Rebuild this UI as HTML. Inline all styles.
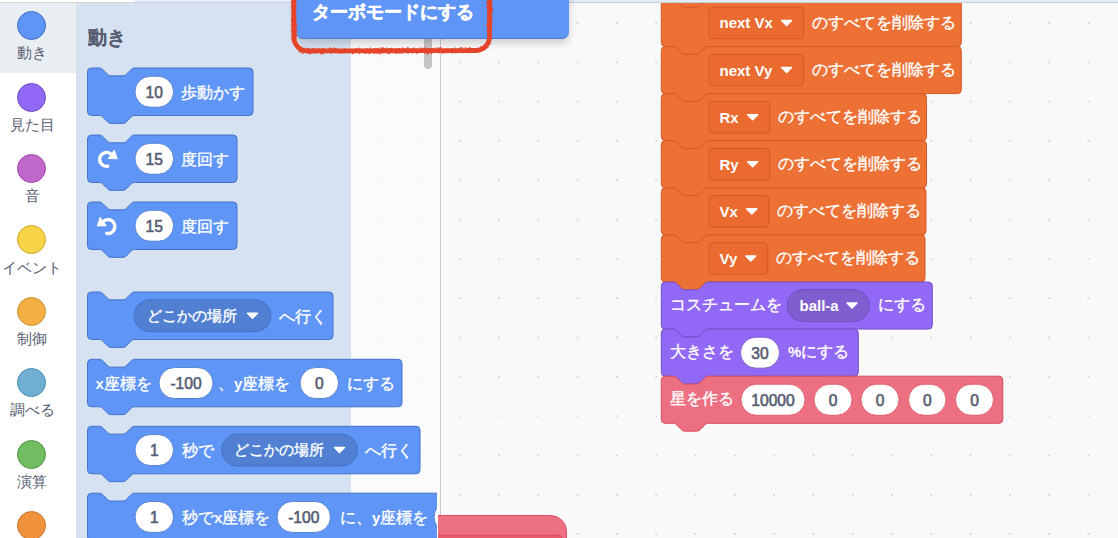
<!DOCTYPE html>
<html><head><meta charset="utf-8">
<style>
html,body{margin:0;padding:0;width:1118px;height:538px;overflow:hidden;background:#F9F9F9;font-family:'Liberation Sans', sans-serif;}
#root{position:relative;width:1118px;height:538px;overflow:hidden;}
.abs{position:absolute;}
#cats{left:0;top:2px;width:76px;height:536px;background:#fff;border-right:1px solid #dcdcdc;}
#catsel{left:0;top:0;width:76px;height:71px;background:#E9EEF2;}
.cat{position:absolute;left:0;width:76px;text-align:center;}
.dot{position:absolute;left:17.3px;width:27px;height:27px;border-radius:50%;border:1.2px solid;}
.lab{position:absolute;left:-16px;width:96px;text-align:center;font-size:15.2px;color:#585E73;line-height:16px;white-space:nowrap;}
#flyoutbg{left:77px;top:2px;width:274px;height:536px;background:#D6E2F2;}
#flyoutwhite{left:351px;top:2px;width:89px;height:536px;background:#FBFBFB;}
#vline{left:440px;top:0;width:1px;height:538px;background:#c8c8c8;}
#topstrip{left:0;top:0;width:1118px;height:2px;background:#E3EBF6;border-bottom:1px solid #C5CFDD;}
#topwhite{left:0;top:0;width:135px;height:2px;background:#fff;border-bottom:1px solid #d5d5d5;}
svg text{font-family:'Liberation Sans', sans-serif;}
#menu{left:296px;top:-10px;width:272.5px;height:48.5px;background:#5F95F7;border-radius:0 0 7px 7px;box-shadow:0 4px 8px rgba(0,0,0,0.18);border-bottom:1px solid #4A7BD0;box-sizing:border-box;}
#menutext{left:312px;top:1.5px;font-size:17.9px;font-weight:bold;color:#fff;-webkit-text-stroke:0.5px #fff;line-height:20px;white-space:nowrap;}
#scroll{left:424px;top:30px;width:8px;height:39px;border-radius:4px;background:#c4c4c4;}
</style></head><body><div id="root">
<svg class="abs" style="left:0;top:0" width="1118" height="538"><circle cx="459.6" cy="-16.31" r="0.95" fill="#cfcfcf"/><circle cx="459.6" cy="23" r="0.95" fill="#cfcfcf"/><circle cx="459.6" cy="62.31" r="0.95" fill="#cfcfcf"/><circle cx="459.6" cy="101.62" r="0.95" fill="#cfcfcf"/><circle cx="459.6" cy="140.93" r="0.95" fill="#cfcfcf"/><circle cx="459.6" cy="180.24" r="0.95" fill="#cfcfcf"/><circle cx="459.6" cy="219.55" r="0.95" fill="#cfcfcf"/><circle cx="459.6" cy="258.86" r="0.95" fill="#cfcfcf"/><circle cx="459.6" cy="298.17" r="0.95" fill="#cfcfcf"/><circle cx="459.6" cy="337.48" r="0.95" fill="#cfcfcf"/><circle cx="459.6" cy="376.79" r="0.95" fill="#cfcfcf"/><circle cx="459.6" cy="416.1" r="0.95" fill="#cfcfcf"/><circle cx="459.6" cy="455.41" r="0.95" fill="#cfcfcf"/><circle cx="459.6" cy="494.72" r="0.95" fill="#cfcfcf"/><circle cx="459.6" cy="534.03" r="0.95" fill="#cfcfcf"/><circle cx="498.91" cy="-16.31" r="0.95" fill="#cfcfcf"/><circle cx="498.91" cy="23" r="0.95" fill="#cfcfcf"/><circle cx="498.91" cy="62.31" r="0.95" fill="#cfcfcf"/><circle cx="498.91" cy="101.62" r="0.95" fill="#cfcfcf"/><circle cx="498.91" cy="140.93" r="0.95" fill="#cfcfcf"/><circle cx="498.91" cy="180.24" r="0.95" fill="#cfcfcf"/><circle cx="498.91" cy="219.55" r="0.95" fill="#cfcfcf"/><circle cx="498.91" cy="258.86" r="0.95" fill="#cfcfcf"/><circle cx="498.91" cy="298.17" r="0.95" fill="#cfcfcf"/><circle cx="498.91" cy="337.48" r="0.95" fill="#cfcfcf"/><circle cx="498.91" cy="376.79" r="0.95" fill="#cfcfcf"/><circle cx="498.91" cy="416.1" r="0.95" fill="#cfcfcf"/><circle cx="498.91" cy="455.41" r="0.95" fill="#cfcfcf"/><circle cx="498.91" cy="494.72" r="0.95" fill="#cfcfcf"/><circle cx="498.91" cy="534.03" r="0.95" fill="#cfcfcf"/><circle cx="538.22" cy="-16.31" r="0.95" fill="#cfcfcf"/><circle cx="538.22" cy="23" r="0.95" fill="#cfcfcf"/><circle cx="538.22" cy="62.31" r="0.95" fill="#cfcfcf"/><circle cx="538.22" cy="101.62" r="0.95" fill="#cfcfcf"/><circle cx="538.22" cy="140.93" r="0.95" fill="#cfcfcf"/><circle cx="538.22" cy="180.24" r="0.95" fill="#cfcfcf"/><circle cx="538.22" cy="219.55" r="0.95" fill="#cfcfcf"/><circle cx="538.22" cy="258.86" r="0.95" fill="#cfcfcf"/><circle cx="538.22" cy="298.17" r="0.95" fill="#cfcfcf"/><circle cx="538.22" cy="337.48" r="0.95" fill="#cfcfcf"/><circle cx="538.22" cy="376.79" r="0.95" fill="#cfcfcf"/><circle cx="538.22" cy="416.1" r="0.95" fill="#cfcfcf"/><circle cx="538.22" cy="455.41" r="0.95" fill="#cfcfcf"/><circle cx="538.22" cy="494.72" r="0.95" fill="#cfcfcf"/><circle cx="538.22" cy="534.03" r="0.95" fill="#cfcfcf"/><circle cx="577.53" cy="-16.31" r="0.95" fill="#cfcfcf"/><circle cx="577.53" cy="23" r="0.95" fill="#cfcfcf"/><circle cx="577.53" cy="62.31" r="0.95" fill="#cfcfcf"/><circle cx="577.53" cy="101.62" r="0.95" fill="#cfcfcf"/><circle cx="577.53" cy="140.93" r="0.95" fill="#cfcfcf"/><circle cx="577.53" cy="180.24" r="0.95" fill="#cfcfcf"/><circle cx="577.53" cy="219.55" r="0.95" fill="#cfcfcf"/><circle cx="577.53" cy="258.86" r="0.95" fill="#cfcfcf"/><circle cx="577.53" cy="298.17" r="0.95" fill="#cfcfcf"/><circle cx="577.53" cy="337.48" r="0.95" fill="#cfcfcf"/><circle cx="577.53" cy="376.79" r="0.95" fill="#cfcfcf"/><circle cx="577.53" cy="416.1" r="0.95" fill="#cfcfcf"/><circle cx="577.53" cy="455.41" r="0.95" fill="#cfcfcf"/><circle cx="577.53" cy="494.72" r="0.95" fill="#cfcfcf"/><circle cx="577.53" cy="534.03" r="0.95" fill="#cfcfcf"/><circle cx="616.84" cy="-16.31" r="0.95" fill="#cfcfcf"/><circle cx="616.84" cy="23" r="0.95" fill="#cfcfcf"/><circle cx="616.84" cy="62.31" r="0.95" fill="#cfcfcf"/><circle cx="616.84" cy="101.62" r="0.95" fill="#cfcfcf"/><circle cx="616.84" cy="140.93" r="0.95" fill="#cfcfcf"/><circle cx="616.84" cy="180.24" r="0.95" fill="#cfcfcf"/><circle cx="616.84" cy="219.55" r="0.95" fill="#cfcfcf"/><circle cx="616.84" cy="258.86" r="0.95" fill="#cfcfcf"/><circle cx="616.84" cy="298.17" r="0.95" fill="#cfcfcf"/><circle cx="616.84" cy="337.48" r="0.95" fill="#cfcfcf"/><circle cx="616.84" cy="376.79" r="0.95" fill="#cfcfcf"/><circle cx="616.84" cy="416.1" r="0.95" fill="#cfcfcf"/><circle cx="616.84" cy="455.41" r="0.95" fill="#cfcfcf"/><circle cx="616.84" cy="494.72" r="0.95" fill="#cfcfcf"/><circle cx="616.84" cy="534.03" r="0.95" fill="#cfcfcf"/><circle cx="656.15" cy="-16.31" r="0.95" fill="#cfcfcf"/><circle cx="656.15" cy="23" r="0.95" fill="#cfcfcf"/><circle cx="656.15" cy="62.31" r="0.95" fill="#cfcfcf"/><circle cx="656.15" cy="101.62" r="0.95" fill="#cfcfcf"/><circle cx="656.15" cy="140.93" r="0.95" fill="#cfcfcf"/><circle cx="656.15" cy="180.24" r="0.95" fill="#cfcfcf"/><circle cx="656.15" cy="219.55" r="0.95" fill="#cfcfcf"/><circle cx="656.15" cy="258.86" r="0.95" fill="#cfcfcf"/><circle cx="656.15" cy="298.17" r="0.95" fill="#cfcfcf"/><circle cx="656.15" cy="337.48" r="0.95" fill="#cfcfcf"/><circle cx="656.15" cy="376.79" r="0.95" fill="#cfcfcf"/><circle cx="656.15" cy="416.1" r="0.95" fill="#cfcfcf"/><circle cx="656.15" cy="455.41" r="0.95" fill="#cfcfcf"/><circle cx="656.15" cy="494.72" r="0.95" fill="#cfcfcf"/><circle cx="656.15" cy="534.03" r="0.95" fill="#cfcfcf"/><circle cx="695.46" cy="-16.31" r="0.95" fill="#cfcfcf"/><circle cx="695.46" cy="23" r="0.95" fill="#cfcfcf"/><circle cx="695.46" cy="62.31" r="0.95" fill="#cfcfcf"/><circle cx="695.46" cy="101.62" r="0.95" fill="#cfcfcf"/><circle cx="695.46" cy="140.93" r="0.95" fill="#cfcfcf"/><circle cx="695.46" cy="180.24" r="0.95" fill="#cfcfcf"/><circle cx="695.46" cy="219.55" r="0.95" fill="#cfcfcf"/><circle cx="695.46" cy="258.86" r="0.95" fill="#cfcfcf"/><circle cx="695.46" cy="298.17" r="0.95" fill="#cfcfcf"/><circle cx="695.46" cy="337.48" r="0.95" fill="#cfcfcf"/><circle cx="695.46" cy="376.79" r="0.95" fill="#cfcfcf"/><circle cx="695.46" cy="416.1" r="0.95" fill="#cfcfcf"/><circle cx="695.46" cy="455.41" r="0.95" fill="#cfcfcf"/><circle cx="695.46" cy="494.72" r="0.95" fill="#cfcfcf"/><circle cx="695.46" cy="534.03" r="0.95" fill="#cfcfcf"/><circle cx="734.77" cy="-16.31" r="0.95" fill="#cfcfcf"/><circle cx="734.77" cy="23" r="0.95" fill="#cfcfcf"/><circle cx="734.77" cy="62.31" r="0.95" fill="#cfcfcf"/><circle cx="734.77" cy="101.62" r="0.95" fill="#cfcfcf"/><circle cx="734.77" cy="140.93" r="0.95" fill="#cfcfcf"/><circle cx="734.77" cy="180.24" r="0.95" fill="#cfcfcf"/><circle cx="734.77" cy="219.55" r="0.95" fill="#cfcfcf"/><circle cx="734.77" cy="258.86" r="0.95" fill="#cfcfcf"/><circle cx="734.77" cy="298.17" r="0.95" fill="#cfcfcf"/><circle cx="734.77" cy="337.48" r="0.95" fill="#cfcfcf"/><circle cx="734.77" cy="376.79" r="0.95" fill="#cfcfcf"/><circle cx="734.77" cy="416.1" r="0.95" fill="#cfcfcf"/><circle cx="734.77" cy="455.41" r="0.95" fill="#cfcfcf"/><circle cx="734.77" cy="494.72" r="0.95" fill="#cfcfcf"/><circle cx="734.77" cy="534.03" r="0.95" fill="#cfcfcf"/><circle cx="774.08" cy="-16.31" r="0.95" fill="#cfcfcf"/><circle cx="774.08" cy="23" r="0.95" fill="#cfcfcf"/><circle cx="774.08" cy="62.31" r="0.95" fill="#cfcfcf"/><circle cx="774.08" cy="101.62" r="0.95" fill="#cfcfcf"/><circle cx="774.08" cy="140.93" r="0.95" fill="#cfcfcf"/><circle cx="774.08" cy="180.24" r="0.95" fill="#cfcfcf"/><circle cx="774.08" cy="219.55" r="0.95" fill="#cfcfcf"/><circle cx="774.08" cy="258.86" r="0.95" fill="#cfcfcf"/><circle cx="774.08" cy="298.17" r="0.95" fill="#cfcfcf"/><circle cx="774.08" cy="337.48" r="0.95" fill="#cfcfcf"/><circle cx="774.08" cy="376.79" r="0.95" fill="#cfcfcf"/><circle cx="774.08" cy="416.1" r="0.95" fill="#cfcfcf"/><circle cx="774.08" cy="455.41" r="0.95" fill="#cfcfcf"/><circle cx="774.08" cy="494.72" r="0.95" fill="#cfcfcf"/><circle cx="774.08" cy="534.03" r="0.95" fill="#cfcfcf"/><circle cx="813.39" cy="-16.31" r="0.95" fill="#cfcfcf"/><circle cx="813.39" cy="23" r="0.95" fill="#cfcfcf"/><circle cx="813.39" cy="62.31" r="0.95" fill="#cfcfcf"/><circle cx="813.39" cy="101.62" r="0.95" fill="#cfcfcf"/><circle cx="813.39" cy="140.93" r="0.95" fill="#cfcfcf"/><circle cx="813.39" cy="180.24" r="0.95" fill="#cfcfcf"/><circle cx="813.39" cy="219.55" r="0.95" fill="#cfcfcf"/><circle cx="813.39" cy="258.86" r="0.95" fill="#cfcfcf"/><circle cx="813.39" cy="298.17" r="0.95" fill="#cfcfcf"/><circle cx="813.39" cy="337.48" r="0.95" fill="#cfcfcf"/><circle cx="813.39" cy="376.79" r="0.95" fill="#cfcfcf"/><circle cx="813.39" cy="416.1" r="0.95" fill="#cfcfcf"/><circle cx="813.39" cy="455.41" r="0.95" fill="#cfcfcf"/><circle cx="813.39" cy="494.72" r="0.95" fill="#cfcfcf"/><circle cx="813.39" cy="534.03" r="0.95" fill="#cfcfcf"/><circle cx="852.7" cy="-16.31" r="0.95" fill="#cfcfcf"/><circle cx="852.7" cy="23" r="0.95" fill="#cfcfcf"/><circle cx="852.7" cy="62.31" r="0.95" fill="#cfcfcf"/><circle cx="852.7" cy="101.62" r="0.95" fill="#cfcfcf"/><circle cx="852.7" cy="140.93" r="0.95" fill="#cfcfcf"/><circle cx="852.7" cy="180.24" r="0.95" fill="#cfcfcf"/><circle cx="852.7" cy="219.55" r="0.95" fill="#cfcfcf"/><circle cx="852.7" cy="258.86" r="0.95" fill="#cfcfcf"/><circle cx="852.7" cy="298.17" r="0.95" fill="#cfcfcf"/><circle cx="852.7" cy="337.48" r="0.95" fill="#cfcfcf"/><circle cx="852.7" cy="376.79" r="0.95" fill="#cfcfcf"/><circle cx="852.7" cy="416.1" r="0.95" fill="#cfcfcf"/><circle cx="852.7" cy="455.41" r="0.95" fill="#cfcfcf"/><circle cx="852.7" cy="494.72" r="0.95" fill="#cfcfcf"/><circle cx="852.7" cy="534.03" r="0.95" fill="#cfcfcf"/><circle cx="892.01" cy="-16.31" r="0.95" fill="#cfcfcf"/><circle cx="892.01" cy="23" r="0.95" fill="#cfcfcf"/><circle cx="892.01" cy="62.31" r="0.95" fill="#cfcfcf"/><circle cx="892.01" cy="101.62" r="0.95" fill="#cfcfcf"/><circle cx="892.01" cy="140.93" r="0.95" fill="#cfcfcf"/><circle cx="892.01" cy="180.24" r="0.95" fill="#cfcfcf"/><circle cx="892.01" cy="219.55" r="0.95" fill="#cfcfcf"/><circle cx="892.01" cy="258.86" r="0.95" fill="#cfcfcf"/><circle cx="892.01" cy="298.17" r="0.95" fill="#cfcfcf"/><circle cx="892.01" cy="337.48" r="0.95" fill="#cfcfcf"/><circle cx="892.01" cy="376.79" r="0.95" fill="#cfcfcf"/><circle cx="892.01" cy="416.1" r="0.95" fill="#cfcfcf"/><circle cx="892.01" cy="455.41" r="0.95" fill="#cfcfcf"/><circle cx="892.01" cy="494.72" r="0.95" fill="#cfcfcf"/><circle cx="892.01" cy="534.03" r="0.95" fill="#cfcfcf"/><circle cx="931.32" cy="-16.31" r="0.95" fill="#cfcfcf"/><circle cx="931.32" cy="23" r="0.95" fill="#cfcfcf"/><circle cx="931.32" cy="62.31" r="0.95" fill="#cfcfcf"/><circle cx="931.32" cy="101.62" r="0.95" fill="#cfcfcf"/><circle cx="931.32" cy="140.93" r="0.95" fill="#cfcfcf"/><circle cx="931.32" cy="180.24" r="0.95" fill="#cfcfcf"/><circle cx="931.32" cy="219.55" r="0.95" fill="#cfcfcf"/><circle cx="931.32" cy="258.86" r="0.95" fill="#cfcfcf"/><circle cx="931.32" cy="298.17" r="0.95" fill="#cfcfcf"/><circle cx="931.32" cy="337.48" r="0.95" fill="#cfcfcf"/><circle cx="931.32" cy="376.79" r="0.95" fill="#cfcfcf"/><circle cx="931.32" cy="416.1" r="0.95" fill="#cfcfcf"/><circle cx="931.32" cy="455.41" r="0.95" fill="#cfcfcf"/><circle cx="931.32" cy="494.72" r="0.95" fill="#cfcfcf"/><circle cx="931.32" cy="534.03" r="0.95" fill="#cfcfcf"/><circle cx="970.63" cy="-16.31" r="0.95" fill="#cfcfcf"/><circle cx="970.63" cy="23" r="0.95" fill="#cfcfcf"/><circle cx="970.63" cy="62.31" r="0.95" fill="#cfcfcf"/><circle cx="970.63" cy="101.62" r="0.95" fill="#cfcfcf"/><circle cx="970.63" cy="140.93" r="0.95" fill="#cfcfcf"/><circle cx="970.63" cy="180.24" r="0.95" fill="#cfcfcf"/><circle cx="970.63" cy="219.55" r="0.95" fill="#cfcfcf"/><circle cx="970.63" cy="258.86" r="0.95" fill="#cfcfcf"/><circle cx="970.63" cy="298.17" r="0.95" fill="#cfcfcf"/><circle cx="970.63" cy="337.48" r="0.95" fill="#cfcfcf"/><circle cx="970.63" cy="376.79" r="0.95" fill="#cfcfcf"/><circle cx="970.63" cy="416.1" r="0.95" fill="#cfcfcf"/><circle cx="970.63" cy="455.41" r="0.95" fill="#cfcfcf"/><circle cx="970.63" cy="494.72" r="0.95" fill="#cfcfcf"/><circle cx="970.63" cy="534.03" r="0.95" fill="#cfcfcf"/><circle cx="1009.94" cy="-16.31" r="0.95" fill="#cfcfcf"/><circle cx="1009.94" cy="23" r="0.95" fill="#cfcfcf"/><circle cx="1009.94" cy="62.31" r="0.95" fill="#cfcfcf"/><circle cx="1009.94" cy="101.62" r="0.95" fill="#cfcfcf"/><circle cx="1009.94" cy="140.93" r="0.95" fill="#cfcfcf"/><circle cx="1009.94" cy="180.24" r="0.95" fill="#cfcfcf"/><circle cx="1009.94" cy="219.55" r="0.95" fill="#cfcfcf"/><circle cx="1009.94" cy="258.86" r="0.95" fill="#cfcfcf"/><circle cx="1009.94" cy="298.17" r="0.95" fill="#cfcfcf"/><circle cx="1009.94" cy="337.48" r="0.95" fill="#cfcfcf"/><circle cx="1009.94" cy="376.79" r="0.95" fill="#cfcfcf"/><circle cx="1009.94" cy="416.1" r="0.95" fill="#cfcfcf"/><circle cx="1009.94" cy="455.41" r="0.95" fill="#cfcfcf"/><circle cx="1009.94" cy="494.72" r="0.95" fill="#cfcfcf"/><circle cx="1009.94" cy="534.03" r="0.95" fill="#cfcfcf"/><circle cx="1049.25" cy="-16.31" r="0.95" fill="#cfcfcf"/><circle cx="1049.25" cy="23" r="0.95" fill="#cfcfcf"/><circle cx="1049.25" cy="62.31" r="0.95" fill="#cfcfcf"/><circle cx="1049.25" cy="101.62" r="0.95" fill="#cfcfcf"/><circle cx="1049.25" cy="140.93" r="0.95" fill="#cfcfcf"/><circle cx="1049.25" cy="180.24" r="0.95" fill="#cfcfcf"/><circle cx="1049.25" cy="219.55" r="0.95" fill="#cfcfcf"/><circle cx="1049.25" cy="258.86" r="0.95" fill="#cfcfcf"/><circle cx="1049.25" cy="298.17" r="0.95" fill="#cfcfcf"/><circle cx="1049.25" cy="337.48" r="0.95" fill="#cfcfcf"/><circle cx="1049.25" cy="376.79" r="0.95" fill="#cfcfcf"/><circle cx="1049.25" cy="416.1" r="0.95" fill="#cfcfcf"/><circle cx="1049.25" cy="455.41" r="0.95" fill="#cfcfcf"/><circle cx="1049.25" cy="494.72" r="0.95" fill="#cfcfcf"/><circle cx="1049.25" cy="534.03" r="0.95" fill="#cfcfcf"/><circle cx="1088.56" cy="-16.31" r="0.95" fill="#cfcfcf"/><circle cx="1088.56" cy="23" r="0.95" fill="#cfcfcf"/><circle cx="1088.56" cy="62.31" r="0.95" fill="#cfcfcf"/><circle cx="1088.56" cy="101.62" r="0.95" fill="#cfcfcf"/><circle cx="1088.56" cy="140.93" r="0.95" fill="#cfcfcf"/><circle cx="1088.56" cy="180.24" r="0.95" fill="#cfcfcf"/><circle cx="1088.56" cy="219.55" r="0.95" fill="#cfcfcf"/><circle cx="1088.56" cy="258.86" r="0.95" fill="#cfcfcf"/><circle cx="1088.56" cy="298.17" r="0.95" fill="#cfcfcf"/><circle cx="1088.56" cy="337.48" r="0.95" fill="#cfcfcf"/><circle cx="1088.56" cy="376.79" r="0.95" fill="#cfcfcf"/><circle cx="1088.56" cy="416.1" r="0.95" fill="#cfcfcf"/><circle cx="1088.56" cy="455.41" r="0.95" fill="#cfcfcf"/><circle cx="1088.56" cy="494.72" r="0.95" fill="#cfcfcf"/><circle cx="1088.56" cy="534.03" r="0.95" fill="#cfcfcf"/><circle cx="1127.87" cy="-16.31" r="0.95" fill="#cfcfcf"/><circle cx="1127.87" cy="23" r="0.95" fill="#cfcfcf"/><circle cx="1127.87" cy="62.31" r="0.95" fill="#cfcfcf"/><circle cx="1127.87" cy="101.62" r="0.95" fill="#cfcfcf"/><circle cx="1127.87" cy="140.93" r="0.95" fill="#cfcfcf"/><circle cx="1127.87" cy="180.24" r="0.95" fill="#cfcfcf"/><circle cx="1127.87" cy="219.55" r="0.95" fill="#cfcfcf"/><circle cx="1127.87" cy="258.86" r="0.95" fill="#cfcfcf"/><circle cx="1127.87" cy="298.17" r="0.95" fill="#cfcfcf"/><circle cx="1127.87" cy="337.48" r="0.95" fill="#cfcfcf"/><circle cx="1127.87" cy="376.79" r="0.95" fill="#cfcfcf"/><circle cx="1127.87" cy="416.1" r="0.95" fill="#cfcfcf"/><circle cx="1127.87" cy="455.41" r="0.95" fill="#cfcfcf"/><circle cx="1127.87" cy="494.72" r="0.95" fill="#cfcfcf"/><circle cx="1127.87" cy="534.03" r="0.95" fill="#cfcfcf"/><circle cx="1167.18" cy="-16.31" r="0.95" fill="#cfcfcf"/><circle cx="1167.18" cy="23" r="0.95" fill="#cfcfcf"/><circle cx="1167.18" cy="62.31" r="0.95" fill="#cfcfcf"/><circle cx="1167.18" cy="101.62" r="0.95" fill="#cfcfcf"/><circle cx="1167.18" cy="140.93" r="0.95" fill="#cfcfcf"/><circle cx="1167.18" cy="180.24" r="0.95" fill="#cfcfcf"/><circle cx="1167.18" cy="219.55" r="0.95" fill="#cfcfcf"/><circle cx="1167.18" cy="258.86" r="0.95" fill="#cfcfcf"/><circle cx="1167.18" cy="298.17" r="0.95" fill="#cfcfcf"/><circle cx="1167.18" cy="337.48" r="0.95" fill="#cfcfcf"/><circle cx="1167.18" cy="376.79" r="0.95" fill="#cfcfcf"/><circle cx="1167.18" cy="416.1" r="0.95" fill="#cfcfcf"/><circle cx="1167.18" cy="455.41" r="0.95" fill="#cfcfcf"/><circle cx="1167.18" cy="494.72" r="0.95" fill="#cfcfcf"/><circle cx="1167.18" cy="534.03" r="0.95" fill="#cfcfcf"/><circle cx="1206.49" cy="-16.31" r="0.95" fill="#cfcfcf"/><circle cx="1206.49" cy="23" r="0.95" fill="#cfcfcf"/><circle cx="1206.49" cy="62.31" r="0.95" fill="#cfcfcf"/><circle cx="1206.49" cy="101.62" r="0.95" fill="#cfcfcf"/><circle cx="1206.49" cy="140.93" r="0.95" fill="#cfcfcf"/><circle cx="1206.49" cy="180.24" r="0.95" fill="#cfcfcf"/><circle cx="1206.49" cy="219.55" r="0.95" fill="#cfcfcf"/><circle cx="1206.49" cy="258.86" r="0.95" fill="#cfcfcf"/><circle cx="1206.49" cy="298.17" r="0.95" fill="#cfcfcf"/><circle cx="1206.49" cy="337.48" r="0.95" fill="#cfcfcf"/><circle cx="1206.49" cy="376.79" r="0.95" fill="#cfcfcf"/><circle cx="1206.49" cy="416.1" r="0.95" fill="#cfcfcf"/><circle cx="1206.49" cy="455.41" r="0.95" fill="#cfcfcf"/><circle cx="1206.49" cy="494.72" r="0.95" fill="#cfcfcf"/><circle cx="1206.49" cy="534.03" r="0.95" fill="#cfcfcf"/></svg>
<div id="flyoutwhite" class="abs"></div>
<div id="flyoutbg" class="abs"></div>
<div id="vline" class="abs"></div>
<svg class="abs" style="left:0;top:0" width="1118" height="538">
<defs><clipPath id="wsclip"><rect x="438" y="0" width="680" height="538"/></clipPath>
<clipPath id="flyclip"><rect x="77" y="0" width="360" height="538"/></clipPath></defs>
<circle cx="380.98" cy="-16.31" r="0.9" fill="#eaeaea"/><circle cx="380.98" cy="23" r="0.9" fill="#eaeaea"/><circle cx="380.98" cy="62.31" r="0.9" fill="#eaeaea"/><circle cx="380.98" cy="101.62" r="0.9" fill="#eaeaea"/><circle cx="380.98" cy="140.93" r="0.9" fill="#eaeaea"/><circle cx="380.98" cy="180.24" r="0.9" fill="#eaeaea"/><circle cx="380.98" cy="219.55" r="0.9" fill="#eaeaea"/><circle cx="380.98" cy="258.86" r="0.9" fill="#eaeaea"/><circle cx="380.98" cy="298.17" r="0.9" fill="#eaeaea"/><circle cx="380.98" cy="337.48" r="0.9" fill="#eaeaea"/><circle cx="380.98" cy="376.79" r="0.9" fill="#eaeaea"/><circle cx="380.98" cy="416.1" r="0.9" fill="#eaeaea"/><circle cx="380.98" cy="455.41" r="0.9" fill="#eaeaea"/><circle cx="380.98" cy="494.72" r="0.9" fill="#eaeaea"/><circle cx="380.98" cy="534.03" r="0.9" fill="#eaeaea"/><circle cx="420.29" cy="-16.31" r="0.9" fill="#eaeaea"/><circle cx="420.29" cy="23" r="0.9" fill="#eaeaea"/><circle cx="420.29" cy="62.31" r="0.9" fill="#eaeaea"/><circle cx="420.29" cy="101.62" r="0.9" fill="#eaeaea"/><circle cx="420.29" cy="140.93" r="0.9" fill="#eaeaea"/><circle cx="420.29" cy="180.24" r="0.9" fill="#eaeaea"/><circle cx="420.29" cy="219.55" r="0.9" fill="#eaeaea"/><circle cx="420.29" cy="258.86" r="0.9" fill="#eaeaea"/><circle cx="420.29" cy="298.17" r="0.9" fill="#eaeaea"/><circle cx="420.29" cy="337.48" r="0.9" fill="#eaeaea"/><circle cx="420.29" cy="376.79" r="0.9" fill="#eaeaea"/><circle cx="420.29" cy="416.1" r="0.9" fill="#eaeaea"/><circle cx="420.29" cy="455.41" r="0.9" fill="#eaeaea"/><circle cx="420.29" cy="494.72" r="0.9" fill="#eaeaea"/><circle cx="420.29" cy="534.03" r="0.9" fill="#eaeaea"/><g clip-path="url(#wsclip)"><path d="M 661.3,-43.77 a 3.93,3.93 0 0,1 3.93,-3.93 H 673.08 c 1.96,0 2.95,0.98 3.93,1.96 l 3.93,3.93 c 0.98,0.98 1.96,1.96 3.93,1.96 h 11.78 c 1.96,0 2.95,-0.98 3.93,-1.96 l 3.93,-3.93 c 0.98,-0.98 1.96,-1.96 3.93,-1.96 H 957.37 a 3.93,3.93 0 0,1 3.93,3.93 V -4.53 a 3.93,3.93 0 0,1 -3.93,3.93 H 708.44 c -1.96,0 -2.95,0.98 -3.93,1.96 l -3.93,3.93 c -0.98,0.98 -1.96,1.96 -3.93,1.96 h -11.78 c -1.96,0 -2.95,-0.98 -3.93,-1.96 l -3.93,-3.93 c -0.98,-0.98 -1.96,-1.96 -3.93,-1.96 H 665.23 a 3.93,3.93 0 0,1 -3.93,-3.93 Z" fill="#ED7035" stroke="#D55825" stroke-width="1"/><path d="M 661.3,3.33 a 3.93,3.93 0 0,1 3.93,-3.93 H 673.08 c 1.96,0 2.95,0.98 3.93,1.96 l 3.93,3.93 c 0.98,0.98 1.96,1.96 3.93,1.96 h 11.78 c 1.96,0 2.95,-0.98 3.93,-1.96 l 3.93,-3.93 c 0.98,-0.98 1.96,-1.96 3.93,-1.96 H 957.37 a 3.93,3.93 0 0,1 3.93,3.93 V 42.57 a 3.93,3.93 0 0,1 -3.93,3.93 H 708.44 c -1.96,0 -2.95,0.98 -3.93,1.96 l -3.93,3.93 c -0.98,0.98 -1.96,1.96 -3.93,1.96 h -11.78 c -1.96,0 -2.95,-0.98 -3.93,-1.96 l -3.93,-3.93 c -0.98,-0.98 -1.96,-1.96 -3.93,-1.96 H 665.23 a 3.93,3.93 0 0,1 -3.93,-3.93 Z" fill="#ED7035" stroke="#D55825" stroke-width="1"/><rect x="709" y="7.15" width="94.6" height="31.6" rx="4" fill="#EA6A30" stroke="#D55825" stroke-width="1"/><text x="719.5" y="22.95" font-size="15" font-weight="bold" fill="#fff" stroke="#fff" stroke-width="0" text-anchor="start" dominant-baseline="central">next Vx</text><path d="M 781.6,20.45 h 10 l -5,5 z" fill="#fff" stroke="#fff" stroke-width="1.5" stroke-linejoin="round"/><text x="812.4" y="22.15" font-size="16" font-weight="normal" fill="#fff" stroke="#fff" stroke-width="0.35" text-anchor="start" dominant-baseline="central">のすべてを削除する</text><path d="M 661.3,50.43 a 3.93,3.93 0 0,1 3.93,-3.93 H 673.08 c 1.96,0 2.95,0.98 3.93,1.96 l 3.93,3.93 c 0.98,0.98 1.96,1.96 3.93,1.96 h 11.78 c 1.96,0 2.95,-0.98 3.93,-1.96 l 3.93,-3.93 c 0.98,-0.98 1.96,-1.96 3.93,-1.96 H 957.37 a 3.93,3.93 0 0,1 3.93,3.93 V 89.67 a 3.93,3.93 0 0,1 -3.93,3.93 H 708.44 c -1.96,0 -2.95,0.98 -3.93,1.96 l -3.93,3.93 c -0.98,0.98 -1.96,1.96 -3.93,1.96 h -11.78 c -1.96,0 -2.95,-0.98 -3.93,-1.96 l -3.93,-3.93 c -0.98,-0.98 -1.96,-1.96 -3.93,-1.96 H 665.23 a 3.93,3.93 0 0,1 -3.93,-3.93 Z" fill="#ED7035" stroke="#D55825" stroke-width="1"/><rect x="709" y="54.25" width="94.6" height="31.6" rx="4" fill="#EA6A30" stroke="#D55825" stroke-width="1"/><text x="719.5" y="70.05" font-size="15" font-weight="bold" fill="#fff" stroke="#fff" stroke-width="0" text-anchor="start" dominant-baseline="central">next Vy</text><path d="M 781.6,67.55 h 10 l -5,5 z" fill="#fff" stroke="#fff" stroke-width="1.5" stroke-linejoin="round"/><text x="812.4" y="69.25" font-size="16" font-weight="normal" fill="#fff" stroke="#fff" stroke-width="0.35" text-anchor="start" dominant-baseline="central">のすべてを削除する</text><path d="M 661.3,97.53 a 3.93,3.93 0 0,1 3.93,-3.93 H 673.08 c 1.96,0 2.95,0.98 3.93,1.96 l 3.93,3.93 c 0.98,0.98 1.96,1.96 3.93,1.96 h 11.78 c 1.96,0 2.95,-0.98 3.93,-1.96 l 3.93,-3.93 c 0.98,-0.98 1.96,-1.96 3.93,-1.96 H 922.57 a 3.93,3.93 0 0,1 3.93,3.93 V 136.77 a 3.93,3.93 0 0,1 -3.93,3.93 H 708.44 c -1.96,0 -2.95,0.98 -3.93,1.96 l -3.93,3.93 c -0.98,0.98 -1.96,1.96 -3.93,1.96 h -11.78 c -1.96,0 -2.95,-0.98 -3.93,-1.96 l -3.93,-3.93 c -0.98,-0.98 -1.96,-1.96 -3.93,-1.96 H 665.23 a 3.93,3.93 0 0,1 -3.93,-3.93 Z" fill="#ED7035" stroke="#D55825" stroke-width="1"/><rect x="709" y="101.35" width="60.7" height="31.6" rx="4" fill="#EA6A30" stroke="#D55825" stroke-width="1"/><text x="719.5" y="117.15" font-size="15" font-weight="bold" fill="#fff" stroke="#fff" stroke-width="0" text-anchor="start" dominant-baseline="central">Rx</text><path d="M 747.7,114.65 h 10 l -5,5 z" fill="#fff" stroke="#fff" stroke-width="1.5" stroke-linejoin="round"/><text x="778.1" y="116.35" font-size="16" font-weight="normal" fill="#fff" stroke="#fff" stroke-width="0.35" text-anchor="start" dominant-baseline="central">のすべてを削除する</text><path d="M 661.3,144.63 a 3.93,3.93 0 0,1 3.93,-3.93 H 673.08 c 1.96,0 2.95,0.98 3.93,1.96 l 3.93,3.93 c 0.98,0.98 1.96,1.96 3.93,1.96 h 11.78 c 1.96,0 2.95,-0.98 3.93,-1.96 l 3.93,-3.93 c 0.98,-0.98 1.96,-1.96 3.93,-1.96 H 922.57 a 3.93,3.93 0 0,1 3.93,3.93 V 183.87 a 3.93,3.93 0 0,1 -3.93,3.93 H 708.44 c -1.96,0 -2.95,0.98 -3.93,1.96 l -3.93,3.93 c -0.98,0.98 -1.96,1.96 -3.93,1.96 h -11.78 c -1.96,0 -2.95,-0.98 -3.93,-1.96 l -3.93,-3.93 c -0.98,-0.98 -1.96,-1.96 -3.93,-1.96 H 665.23 a 3.93,3.93 0 0,1 -3.93,-3.93 Z" fill="#ED7035" stroke="#D55825" stroke-width="1"/><rect x="709" y="148.45" width="60.7" height="31.6" rx="4" fill="#EA6A30" stroke="#D55825" stroke-width="1"/><text x="719.5" y="164.25" font-size="15" font-weight="bold" fill="#fff" stroke="#fff" stroke-width="0" text-anchor="start" dominant-baseline="central">Ry</text><path d="M 747.7,161.75 h 10 l -5,5 z" fill="#fff" stroke="#fff" stroke-width="1.5" stroke-linejoin="round"/><text x="778.1" y="163.45" font-size="16" font-weight="normal" fill="#fff" stroke="#fff" stroke-width="0.35" text-anchor="start" dominant-baseline="central">のすべてを削除する</text><path d="M 661.3,191.73 a 3.93,3.93 0 0,1 3.93,-3.93 H 673.08 c 1.96,0 2.95,0.98 3.93,1.96 l 3.93,3.93 c 0.98,0.98 1.96,1.96 3.93,1.96 h 11.78 c 1.96,0 2.95,-0.98 3.93,-1.96 l 3.93,-3.93 c 0.98,-0.98 1.96,-1.96 3.93,-1.96 H 922.07 a 3.93,3.93 0 0,1 3.93,3.93 V 230.97 a 3.93,3.93 0 0,1 -3.93,3.93 H 708.44 c -1.96,0 -2.95,0.98 -3.93,1.96 l -3.93,3.93 c -0.98,0.98 -1.96,1.96 -3.93,1.96 h -11.78 c -1.96,0 -2.95,-0.98 -3.93,-1.96 l -3.93,-3.93 c -0.98,-0.98 -1.96,-1.96 -3.93,-1.96 H 665.23 a 3.93,3.93 0 0,1 -3.93,-3.93 Z" fill="#ED7035" stroke="#D55825" stroke-width="1"/><rect x="709" y="195.55" width="59.8" height="31.6" rx="4" fill="#EA6A30" stroke="#D55825" stroke-width="1"/><text x="719.5" y="211.35" font-size="15" font-weight="bold" fill="#fff" stroke="#fff" stroke-width="0" text-anchor="start" dominant-baseline="central">Vx</text><path d="M 746.8,208.85 h 10 l -5,5 z" fill="#fff" stroke="#fff" stroke-width="1.5" stroke-linejoin="round"/><text x="777.2" y="210.55" font-size="16" font-weight="normal" fill="#fff" stroke="#fff" stroke-width="0.35" text-anchor="start" dominant-baseline="central">のすべてを削除する</text><path d="M 661.3,238.83 a 3.93,3.93 0 0,1 3.93,-3.93 H 673.08 c 1.96,0 2.95,0.98 3.93,1.96 l 3.93,3.93 c 0.98,0.98 1.96,1.96 3.93,1.96 h 11.78 c 1.96,0 2.95,-0.98 3.93,-1.96 l 3.93,-3.93 c 0.98,-0.98 1.96,-1.96 3.93,-1.96 H 921.07 a 3.93,3.93 0 0,1 3.93,3.93 V 278.07 a 3.93,3.93 0 0,1 -3.93,3.93 H 708.44 c -1.96,0 -2.95,0.98 -3.93,1.96 l -3.93,3.93 c -0.98,0.98 -1.96,1.96 -3.93,1.96 h -11.78 c -1.96,0 -2.95,-0.98 -3.93,-1.96 l -3.93,-3.93 c -0.98,-0.98 -1.96,-1.96 -3.93,-1.96 H 665.23 a 3.93,3.93 0 0,1 -3.93,-3.93 Z" fill="#ED7035" stroke="#D55825" stroke-width="1"/><rect x="709" y="242.65" width="58.8" height="31.6" rx="4" fill="#EA6A30" stroke="#D55825" stroke-width="1"/><text x="719.5" y="258.45" font-size="15" font-weight="bold" fill="#fff" stroke="#fff" stroke-width="0" text-anchor="start" dominant-baseline="central">Vy</text><path d="M 745.8,255.95 h 10 l -5,5 z" fill="#fff" stroke="#fff" stroke-width="1.5" stroke-linejoin="round"/><text x="776.2" y="257.65" font-size="16" font-weight="normal" fill="#fff" stroke="#fff" stroke-width="0.35" text-anchor="start" dominant-baseline="central">のすべてを削除する</text><path d="M 661.3,285.93 a 3.93,3.93 0 0,1 3.93,-3.93 H 673.08 c 1.96,0 2.95,0.98 3.93,1.96 l 3.93,3.93 c 0.98,0.98 1.96,1.96 3.93,1.96 h 11.78 c 1.96,0 2.95,-0.98 3.93,-1.96 l 3.93,-3.93 c 0.98,-0.98 1.96,-1.96 3.93,-1.96 H 928.37 a 3.93,3.93 0 0,1 3.93,3.93 V 325.17 a 3.93,3.93 0 0,1 -3.93,3.93 H 708.44 c -1.96,0 -2.95,0.98 -3.93,1.96 l -3.93,3.93 c -0.98,0.98 -1.96,1.96 -3.93,1.96 h -11.78 c -1.96,0 -2.95,-0.98 -3.93,-1.96 l -3.93,-3.93 c -0.98,-0.98 -1.96,-1.96 -3.93,-1.96 H 665.23 a 3.93,3.93 0 0,1 -3.93,-3.93 Z" fill="#9268F6" stroke="#714FC4" stroke-width="1"/><text x="670" y="304.35" font-size="16" font-weight="normal" fill="#fff" stroke="#fff" stroke-width="0.35" text-anchor="start" dominant-baseline="central">コスチュームを</text><rect x="787" y="289.55" width="82.5" height="32" rx="16" fill="#7F5ECF" stroke="#714FC4" stroke-width="1"/><text x="799.5" y="305.55" font-size="15" font-weight="bold" fill="#fff" stroke="#fff" stroke-width="0" text-anchor="start" dominant-baseline="central">ball-a</text><path d="M 847,303.05 h 10 l -5,5 z" fill="#fff" stroke="#fff" stroke-width="1.5" stroke-linejoin="round"/><text x="878" y="304.35" font-size="16" font-weight="normal" fill="#fff" stroke="#fff" stroke-width="0.35" text-anchor="start" dominant-baseline="central">にする</text><path d="M 661.3,333.03 a 3.93,3.93 0 0,1 3.93,-3.93 H 673.08 c 1.96,0 2.95,0.98 3.93,1.96 l 3.93,3.93 c 0.98,0.98 1.96,1.96 3.93,1.96 h 11.78 c 1.96,0 2.95,-0.98 3.93,-1.96 l 3.93,-3.93 c 0.98,-0.98 1.96,-1.96 3.93,-1.96 H 854.37 a 3.93,3.93 0 0,1 3.93,3.93 V 372.27 a 3.93,3.93 0 0,1 -3.93,3.93 H 708.44 c -1.96,0 -2.95,0.98 -3.93,1.96 l -3.93,3.93 c -0.98,0.98 -1.96,1.96 -3.93,1.96 h -11.78 c -1.96,0 -2.95,-0.98 -3.93,-1.96 l -3.93,-3.93 c -0.98,-0.98 -1.96,-1.96 -3.93,-1.96 H 665.23 a 3.93,3.93 0 0,1 -3.93,-3.93 Z" fill="#9268F6" stroke="#714FC4" stroke-width="1"/><text x="670" y="351.45" font-size="16" font-weight="normal" fill="#fff" stroke="#fff" stroke-width="0.35" text-anchor="start" dominant-baseline="central">大きさを</text><rect x="740.5" y="337.15" width="39" height="31" rx="15.5" fill="#fff" stroke="#714FC4" stroke-opacity="0.8" stroke-width="1"/><text x="760" y="353.15" font-size="15.6" font-weight="normal" fill="#585E73" stroke="#585E73" stroke-width="0.6" text-anchor="middle" dominant-baseline="central">30</text><text x="788" y="351.45" font-size="16" font-weight="normal" fill="#fff" stroke="#fff" stroke-width="0.35" text-anchor="start" dominant-baseline="central"><tspan font-weight="bold" font-size="15" stroke-width="0">%</tspan>にする</text><path d="M 661.3,380.13 a 3.93,3.93 0 0,1 3.93,-3.93 H 673.08 c 1.96,0 2.95,0.98 3.93,1.96 l 3.93,3.93 c 0.98,0.98 1.96,1.96 3.93,1.96 h 11.78 c 1.96,0 2.95,-0.98 3.93,-1.96 l 3.93,-3.93 c 0.98,-0.98 1.96,-1.96 3.93,-1.96 H 998.87 a 3.93,3.93 0 0,1 3.93,3.93 V 419.37 a 3.93,3.93 0 0,1 -3.93,3.93 H 708.44 c -1.96,0 -2.95,0.98 -3.93,1.96 l -3.93,3.93 c -0.98,0.98 -1.96,1.96 -3.93,1.96 h -11.78 c -1.96,0 -2.95,-0.98 -3.93,-1.96 l -3.93,-3.93 c -0.98,-0.98 -1.96,-1.96 -3.93,-1.96 H 665.23 a 3.93,3.93 0 0,1 -3.93,-3.93 Z" fill="#ED7082" stroke="#DB4A5E" stroke-width="1"/><text x="670" y="398.75" font-size="16" font-weight="normal" fill="#fff" stroke="#fff" stroke-width="0.35" text-anchor="start" dominant-baseline="central">星を作る</text><rect x="741" y="384.25" width="64" height="31" rx="15.5" fill="#fff" stroke="#DB4A5E" stroke-opacity="0.8" stroke-width="1"/><text x="773" y="400.25" font-size="15.6" font-weight="normal" fill="#585E73" stroke="#585E73" stroke-width="0.6" text-anchor="middle" dominant-baseline="central">10000</text><rect x="814" y="384.25" width="38" height="31" rx="15.5" fill="#fff" stroke="#DB4A5E" stroke-opacity="0.8" stroke-width="1"/><text x="833" y="400.25" font-size="15.6" font-weight="normal" fill="#585E73" stroke="#585E73" stroke-width="0.6" text-anchor="middle" dominant-baseline="central">0</text><rect x="861" y="384.25" width="38" height="31" rx="15.5" fill="#fff" stroke="#DB4A5E" stroke-opacity="0.8" stroke-width="1"/><text x="880" y="400.25" font-size="15.6" font-weight="normal" fill="#585E73" stroke="#585E73" stroke-width="0.6" text-anchor="middle" dominant-baseline="central">0</text><rect x="908.5" y="384.25" width="37.5" height="31" rx="15.5" fill="#fff" stroke="#DB4A5E" stroke-opacity="0.8" stroke-width="1"/><text x="927.25" y="400.25" font-size="15.6" font-weight="normal" fill="#585E73" stroke="#585E73" stroke-width="0.6" text-anchor="middle" dominant-baseline="central">0</text><rect x="955.5" y="384.25" width="38" height="31" rx="15.5" fill="#fff" stroke="#DB4A5E" stroke-opacity="0.8" stroke-width="1"/><text x="974.5" y="400.25" font-size="15.6" font-weight="normal" fill="#585E73" stroke="#585E73" stroke-width="0.6" text-anchor="middle" dominant-baseline="central">0</text><path d="M 300,538 V 531 Q 300,515.5 316,515.5 H 550.5 A 16,16 0 0 1 566.5,531.5 V 545 H 300 Z" fill="#ED7082" stroke="#DB4A5E" stroke-width="1"/><rect x="300" y="535.2" width="262" height="20" rx="4" fill="#EC5B6D" stroke="#DB4A5E" stroke-width="1"/></g>
<g clip-path="url(#flyclip)"><path d="M 87.5,71.93 a 3.93,3.93 0 0,1 3.93,-3.93 H 99.28 c 1.96,0 2.95,0.98 3.93,1.96 l 3.93,3.93 c 0.98,0.98 1.96,1.96 3.93,1.96 h 11.78 c 1.96,0 2.95,-0.98 3.93,-1.96 l 3.93,-3.93 c 0.98,-0.98 1.96,-1.96 3.93,-1.96 H 249.07 a 3.93,3.93 0 0,1 3.93,3.93 V 111.57 a 3.93,3.93 0 0,1 -3.93,3.93 H 134.64 c -1.96,0 -2.95,0.98 -3.93,1.96 l -3.93,3.93 c -0.98,0.98 -1.96,1.96 -3.93,1.96 h -11.78 c -1.96,0 -2.95,-0.98 -3.93,-1.96 l -3.93,-3.93 c -0.98,-0.98 -1.96,-1.96 -3.93,-1.96 H 91.43 a 3.93,3.93 0 0,1 -3.93,-3.93 Z" fill="#5F95F7" stroke="#4472C6" stroke-width="1"/><rect x="135" y="76.25" width="38.5" height="31" rx="15.5" fill="#fff" stroke="#4472C6" stroke-opacity="0.8" stroke-width="1"/><text x="154.25" y="92.25" font-size="15.6" font-weight="normal" fill="#585E73" stroke="#585E73" stroke-width="0.6" text-anchor="middle" dominant-baseline="central">10</text><text x="181" y="91.75" font-size="16.3" font-weight="normal" fill="#fff" stroke="#fff" stroke-width="0.35" text-anchor="start" dominant-baseline="central">歩動かす</text><path d="M 87.5,138.93 a 3.93,3.93 0 0,1 3.93,-3.93 H 99.28 c 1.96,0 2.95,0.98 3.93,1.96 l 3.93,3.93 c 0.98,0.98 1.96,1.96 3.93,1.96 h 11.78 c 1.96,0 2.95,-0.98 3.93,-1.96 l 3.93,-3.93 c 0.98,-0.98 1.96,-1.96 3.93,-1.96 H 233.07 a 3.93,3.93 0 0,1 3.93,3.93 V 178.57 a 3.93,3.93 0 0,1 -3.93,3.93 H 134.64 c -1.96,0 -2.95,0.98 -3.93,1.96 l -3.93,3.93 c -0.98,0.98 -1.96,1.96 -3.93,1.96 h -11.78 c -1.96,0 -2.95,-0.98 -3.93,-1.96 l -3.93,-3.93 c -0.98,-0.98 -1.96,-1.96 -3.93,-1.96 H 91.43 a 3.93,3.93 0 0,1 -3.93,-3.93 Z" fill="#5F95F7" stroke="#4472C6" stroke-width="1"/><g transform="translate(92,145)"><path d="M 15.81,21.19 A 6.95,6.95 0 1 1 19.76,9.7" fill="none" stroke="#fff" stroke-width="3.3" stroke-linecap="round"/><path d="M 22.4,5 L 25.3,13.8 L 16.1,13.6 Z" fill="#fff" stroke="#fff" stroke-width="0.8" stroke-linejoin="round"/></g><rect x="135" y="143.25" width="38.5" height="31" rx="15.5" fill="#fff" stroke="#4472C6" stroke-opacity="0.8" stroke-width="1"/><text x="154.25" y="159.25" font-size="15.6" font-weight="normal" fill="#585E73" stroke="#585E73" stroke-width="0.6" text-anchor="middle" dominant-baseline="central">15</text><text x="181" y="158.75" font-size="16.3" font-weight="normal" fill="#fff" stroke="#fff" stroke-width="0.35" text-anchor="start" dominant-baseline="central">度回す</text><path d="M 87.5,205.93 a 3.93,3.93 0 0,1 3.93,-3.93 H 99.28 c 1.96,0 2.95,0.98 3.93,1.96 l 3.93,3.93 c 0.98,0.98 1.96,1.96 3.93,1.96 h 11.78 c 1.96,0 2.95,-0.98 3.93,-1.96 l 3.93,-3.93 c 0.98,-0.98 1.96,-1.96 3.93,-1.96 H 233.07 a 3.93,3.93 0 0,1 3.93,3.93 V 245.57 a 3.93,3.93 0 0,1 -3.93,3.93 H 134.64 c -1.96,0 -2.95,0.98 -3.93,1.96 l -3.93,3.93 c -0.98,0.98 -1.96,1.96 -3.93,1.96 h -11.78 c -1.96,0 -2.95,-0.98 -3.93,-1.96 l -3.93,-3.93 c -0.98,-0.98 -1.96,-1.96 -3.93,-1.96 H 91.43 a 3.93,3.93 0 0,1 -3.93,-3.93 Z" fill="#5F95F7" stroke="#4472C6" stroke-width="1"/><g transform="translate(122.5,212.2) scale(-1,1)"><path d="M 15.81,21.19 A 6.95,6.95 0 1 1 19.76,9.7" fill="none" stroke="#fff" stroke-width="3.3" stroke-linecap="round"/><path d="M 22.4,5 L 25.3,13.8 L 16.1,13.6 Z" fill="#fff" stroke="#fff" stroke-width="0.8" stroke-linejoin="round"/></g><rect x="135" y="210.25" width="38.5" height="31" rx="15.5" fill="#fff" stroke="#4472C6" stroke-opacity="0.8" stroke-width="1"/><text x="154.25" y="226.25" font-size="15.6" font-weight="normal" fill="#585E73" stroke="#585E73" stroke-width="0.6" text-anchor="middle" dominant-baseline="central">15</text><text x="181" y="225.75" font-size="16.3" font-weight="normal" fill="#fff" stroke="#fff" stroke-width="0.35" text-anchor="start" dominant-baseline="central">度回す</text><path d="M 87.5,295.93 a 3.93,3.93 0 0,1 3.93,-3.93 H 99.28 c 1.96,0 2.95,0.98 3.93,1.96 l 3.93,3.93 c 0.98,0.98 1.96,1.96 3.93,1.96 h 11.78 c 1.96,0 2.95,-0.98 3.93,-1.96 l 3.93,-3.93 c 0.98,-0.98 1.96,-1.96 3.93,-1.96 H 329.07 a 3.93,3.93 0 0,1 3.93,3.93 V 335.57 a 3.93,3.93 0 0,1 -3.93,3.93 H 134.64 c -1.96,0 -2.95,0.98 -3.93,1.96 l -3.93,3.93 c -0.98,0.98 -1.96,1.96 -3.93,1.96 h -11.78 c -1.96,0 -2.95,-0.98 -3.93,-1.96 l -3.93,-3.93 c -0.98,-0.98 -1.96,-1.96 -3.93,-1.96 H 91.43 a 3.93,3.93 0 0,1 -3.93,-3.93 Z" fill="#5F95F7" stroke="#4472C6" stroke-width="1"/><rect x="134" y="299.75" width="137" height="32" rx="16" fill="#517FD1" stroke="#4472C6" stroke-width="1"/><text x="146.5" y="315.25" font-size="15.4" font-weight="normal" fill="#fff" stroke="#fff" stroke-width="0.35" text-anchor="start" dominant-baseline="central">どこかの場所</text><path d="M 247.5,313.25 h 10 l -5,5 z" fill="#fff" stroke="#fff" stroke-width="1.5" stroke-linejoin="round"/><text x="279" y="315.75" font-size="16.3" font-weight="normal" fill="#fff" stroke="#fff" stroke-width="0.35" text-anchor="start" dominant-baseline="central">へ行く</text><path d="M 87.5,363.23 a 3.93,3.93 0 0,1 3.93,-3.93 H 99.28 c 1.96,0 2.95,0.98 3.93,1.96 l 3.93,3.93 c 0.98,0.98 1.96,1.96 3.93,1.96 h 11.78 c 1.96,0 2.95,-0.98 3.93,-1.96 l 3.93,-3.93 c 0.98,-0.98 1.96,-1.96 3.93,-1.96 H 398.07 a 3.93,3.93 0 0,1 3.93,3.93 V 402.87 a 3.93,3.93 0 0,1 -3.93,3.93 H 134.64 c -1.96,0 -2.95,0.98 -3.93,1.96 l -3.93,3.93 c -0.98,0.98 -1.96,1.96 -3.93,1.96 h -11.78 c -1.96,0 -2.95,-0.98 -3.93,-1.96 l -3.93,-3.93 c -0.98,-0.98 -1.96,-1.96 -3.93,-1.96 H 91.43 a 3.93,3.93 0 0,1 -3.93,-3.93 Z" fill="#5F95F7" stroke="#4472C6" stroke-width="1"/><text x="95.5" y="383.05" font-size="16.3" font-weight="normal" fill="#fff" stroke="#fff" stroke-width="0.35" text-anchor="start" dominant-baseline="central"><tspan font-weight="bold" font-size="15" stroke-width="0">x</tspan>座標を</text><rect x="159" y="367.55" width="54" height="31" rx="15.5" fill="#fff" stroke="#4472C6" stroke-opacity="0.8" stroke-width="1"/><text x="186" y="383.55" font-size="15.6" font-weight="normal" fill="#585E73" stroke="#585E73" stroke-width="0.6" text-anchor="middle" dominant-baseline="central">-100</text><text x="218" y="383.05" font-size="16.3" font-weight="normal" fill="#fff" stroke="#fff" stroke-width="0.35" text-anchor="start" dominant-baseline="central">、<tspan font-weight="bold" font-size="15" stroke-width="0">y</tspan>座標を</text><rect x="300" y="367.55" width="38.5" height="31" rx="15.5" fill="#fff" stroke="#4472C6" stroke-opacity="0.8" stroke-width="1"/><text x="319.25" y="383.55" font-size="15.6" font-weight="normal" fill="#585E73" stroke="#585E73" stroke-width="0.6" text-anchor="middle" dominant-baseline="central">0</text><text x="347" y="383.05" font-size="16.3" font-weight="normal" fill="#fff" stroke="#fff" stroke-width="0.35" text-anchor="start" dominant-baseline="central">にする</text><path d="M 87.5,430.23 a 3.93,3.93 0 0,1 3.93,-3.93 H 99.28 c 1.96,0 2.95,0.98 3.93,1.96 l 3.93,3.93 c 0.98,0.98 1.96,1.96 3.93,1.96 h 11.78 c 1.96,0 2.95,-0.98 3.93,-1.96 l 3.93,-3.93 c 0.98,-0.98 1.96,-1.96 3.93,-1.96 H 416.07 a 3.93,3.93 0 0,1 3.93,3.93 V 469.87 a 3.93,3.93 0 0,1 -3.93,3.93 H 134.64 c -1.96,0 -2.95,0.98 -3.93,1.96 l -3.93,3.93 c -0.98,0.98 -1.96,1.96 -3.93,1.96 h -11.78 c -1.96,0 -2.95,-0.98 -3.93,-1.96 l -3.93,-3.93 c -0.98,-0.98 -1.96,-1.96 -3.93,-1.96 H 91.43 a 3.93,3.93 0 0,1 -3.93,-3.93 Z" fill="#5F95F7" stroke="#4472C6" stroke-width="1"/><rect x="135" y="434.55" width="38.5" height="31" rx="15.5" fill="#fff" stroke="#4472C6" stroke-opacity="0.8" stroke-width="1"/><text x="154.25" y="450.55" font-size="15.6" font-weight="normal" fill="#585E73" stroke="#585E73" stroke-width="0.6" text-anchor="middle" dominant-baseline="central">1</text><text x="182" y="450.05" font-size="16.3" font-weight="normal" fill="#fff" stroke="#fff" stroke-width="0.35" text-anchor="start" dominant-baseline="central">秒で</text><rect x="221.5" y="434.05" width="136" height="32" rx="16" fill="#517FD1" stroke="#4472C6" stroke-width="1"/><text x="233.5" y="449.55" font-size="15.4" font-weight="normal" fill="#fff" stroke="#fff" stroke-width="0.35" text-anchor="start" dominant-baseline="central">どこかの場所</text><path d="M 334.5,447.55 h 10 l -5,5 z" fill="#fff" stroke="#fff" stroke-width="1.5" stroke-linejoin="round"/><text x="365" y="450.05" font-size="16.3" font-weight="normal" fill="#fff" stroke="#fff" stroke-width="0.35" text-anchor="start" dominant-baseline="central">へ行く</text><path d="M 87.5,497.13 a 3.93,3.93 0 0,1 3.93,-3.93 H 99.28 c 1.96,0 2.95,0.98 3.93,1.96 l 3.93,3.93 c 0.98,0.98 1.96,1.96 3.93,1.96 h 11.78 c 1.96,0 2.95,-0.98 3.93,-1.96 l 3.93,-3.93 c 0.98,-0.98 1.96,-1.96 3.93,-1.96 H 483.07 a 3.93,3.93 0 0,1 3.93,3.93 V 536.77 a 3.93,3.93 0 0,1 -3.93,3.93 H 134.64 c -1.96,0 -2.95,0.98 -3.93,1.96 l -3.93,3.93 c -0.98,0.98 -1.96,1.96 -3.93,1.96 h -11.78 c -1.96,0 -2.95,-0.98 -3.93,-1.96 l -3.93,-3.93 c -0.98,-0.98 -1.96,-1.96 -3.93,-1.96 H 91.43 a 3.93,3.93 0 0,1 -3.93,-3.93 Z" fill="#5F95F7" stroke="#4472C6" stroke-width="1"/><rect x="135" y="501.45" width="38.5" height="31" rx="15.5" fill="#fff" stroke="#4472C6" stroke-opacity="0.8" stroke-width="1"/><text x="154.25" y="517.45" font-size="15.6" font-weight="normal" fill="#585E73" stroke="#585E73" stroke-width="0.6" text-anchor="middle" dominant-baseline="central">1</text><text x="182" y="516.95" font-size="16.3" font-weight="normal" fill="#fff" stroke="#fff" stroke-width="0.35" text-anchor="start" dominant-baseline="central">秒で<tspan font-weight="bold" font-size="15" stroke-width="0">x</tspan>座標を</text><rect x="277" y="501.45" width="53.5" height="31" rx="15.5" fill="#fff" stroke="#4472C6" stroke-opacity="0.8" stroke-width="1"/><text x="303.75" y="517.45" font-size="15.6" font-weight="normal" fill="#585E73" stroke="#585E73" stroke-width="0.6" text-anchor="middle" dominant-baseline="central">-100</text><text x="340" y="516.95" font-size="16.3" font-weight="normal" fill="#fff" stroke="#fff" stroke-width="0.35" text-anchor="start" dominant-baseline="central">に、<tspan font-weight="bold" font-size="15" stroke-width="0">y</tspan>座標を</text><rect x="434" y="501.45" width="46" height="31" rx="15.5" fill="#fff" stroke="#4472C6" stroke-opacity="0.8" stroke-width="1"/><text x="457" y="517.45" font-size="15.6" font-weight="normal" fill="#585E73" stroke="#585E73" stroke-width="0.6" text-anchor="middle" dominant-baseline="central"></text></g>
</svg>
<div id="scroll" class="abs"></div>
<div id="cats" class="abs">
 <div id="catsel" class="abs"></div>
 <div class="dot" style="top:9.2px;background:#5F95F7;border-color:#3F6FC2"></div><div class="lab" style="top:43.3px">動き</div><div class="dot" style="top:80.6px;background:#9268F6;border-color:#6C4CC0"></div><div class="lab" style="top:114.7px">見た目</div><div class="dot" style="top:152px;background:#C169CA;border-color:#A447B0"></div><div class="lab" style="top:186.1px">音</div><div class="dot" style="top:223.4px;background:#F8D447;border-color:#D0A62C"></div><div class="lab" style="top:257.5px">イベント</div><div class="dot" style="top:294.8px;background:#F3AF43;border-color:#CC8E30"></div><div class="lab" style="top:328.9px">制御</div><div class="dot" style="top:366.2px;background:#71AFD2;border-color:#468DB6"></div><div class="lab" style="top:400.3px">調べる</div><div class="dot" style="top:437.6px;background:#71BD62;border-color:#4F9445"></div><div class="lab" style="top:471.7px">演算</div><div class="dot" style="top:509px;background:#F0923C;border-color:#CC7228"></div><div class="lab" style="top:543.1px">変数</div>
</div>
<svg class="abs" style="left:77px;top:0" width="200" height="60"><text x="11" y="37.5" font-size="18.5" font-weight="bold" fill="#585E73" stroke="#585E73" stroke-width="0.15" text-anchor="start" dominant-baseline="central">動き</text></svg>
<div id="topstrip" class="abs"></div>
<div id="topwhite" class="abs"></div>
<div id="menu" class="abs"></div>
<div id="menutext" class="abs">ターボモードにする</div>
<svg class="abs" style="left:0;top:0" width="1118" height="538"><path d="M 293.8,-6 L 293.8,-4.92 L 293.8,-3.85 L 293.8,-2.77 L 293.8,-1.7 L 293.8,-0.62 L 293.8,0.45 L 293.8,1.52 L 293.8,2.6 L 293.8,3.68 L 293.8,4.75 L 293.8,5.83 L 293.8,6.9 L 293.8,7.97 L 293.8,9.05 L 293.8,10.12 L 293.8,11.2 L 293.8,12.27 L 293.8,13.35 L 293.8,14.43 L 293.8,15.5 L 293.8,16.57 L 293.8,17.65 L 293.8,18.72 L 293.8,19.8 L 293.8,20.88 L 293.8,21.95 L 293.8,23.03 L 293.8,24.1 L 293.8,25.18 L 293.8,26.25 L 293.8,27.33 L 293.8,28.4 L 293.8,29.48 L 293.8,30.55 L 293.8,31.62 L 293.8,32.7 L 293.8,33.77 L 293.8,34.85 L 293.8,35.92 L 293.8,37 L 293.89,38.57 L 294.15,40.12 L 294.59,41.62 L 295.19,43.07 L 295.95,44.45 L 296.85,45.73 L 297.9,46.9 L 299.07,47.95 L 300.35,48.85 L 301.73,49.61 L 303.18,50.21 L 304.68,50.65 L 306.23,50.91 L 307.8,51 L 308.85,51 L 309.9,50.99 L 310.95,50.99 L 312,50.99 L 313.04,50.98 L 314.09,50.98 L 315.14,50.98 L 316.19,50.98 L 317.24,50.97 L 318.29,50.97 L 319.34,50.97 L 320.38,50.96 L 321.43,50.96 L 322.48,50.96 L 323.53,50.95 L 324.58,50.95 L 325.63,50.95 L 326.68,50.94 L 327.73,50.94 L 328.78,50.94 L 329.82,50.93 L 330.87,50.93 L 331.92,50.93 L 332.97,50.92 L 334.02,50.92 L 335.07,50.92 L 336.12,50.92 L 337.17,50.91 L 338.21,50.91 L 339.26,50.91 L 340.31,50.9 L 341.36,50.9 L 342.41,50.9 L 343.46,50.89 L 344.51,50.89 L 345.56,50.89 L 346.6,50.88 L 347.65,50.88 L 348.7,50.88 L 349.75,50.88 L 350.8,50.87 L 351.85,50.87 L 352.9,50.87 L 353.95,50.86 L 354.99,50.86 L 356.04,50.86 L 357.09,50.85 L 358.14,50.85 L 359.19,50.85 L 360.24,50.84 L 361.29,50.84 L 362.34,50.84 L 363.38,50.83 L 364.43,50.83 L 365.48,50.83 L 366.53,50.83 L 367.58,50.82 L 368.63,50.82 L 369.68,50.82 L 370.73,50.81 L 371.77,50.81 L 372.82,50.81 L 373.87,50.8 L 374.92,50.8 L 375.97,50.8 L 377.02,50.79 L 378.07,50.79 L 379.12,50.79 L 380.16,50.78 L 381.21,50.78 L 382.26,50.78 L 383.31,50.77 L 384.36,50.77 L 385.41,50.77 L 386.46,50.77 L 387.5,50.76 L 388.55,50.76 L 389.6,50.76 L 390.65,50.75 L 391.7,50.75 L 392.75,50.75 L 393.8,50.74 L 394.85,50.74 L 395.9,50.74 L 396.94,50.73 L 397.99,50.73 L 399.04,50.73 L 400.09,50.73 L 401.14,50.72 L 402.19,50.72 L 403.24,50.72 L 404.29,50.71 L 405.33,50.71 L 406.38,50.71 L 407.43,50.7 L 408.48,50.7 L 409.53,50.7 L 410.58,50.69 L 411.63,50.69 L 412.68,50.69 L 413.72,50.68 L 414.77,50.68 L 415.82,50.68 L 416.87,50.67 L 417.92,50.67 L 418.97,50.67 L 420.02,50.67 L 421.07,50.66 L 422.11,50.66 L 423.16,50.66 L 424.21,50.65 L 425.26,50.65 L 426.31,50.65 L 427.36,50.64 L 428.41,50.64 L 429.46,50.64 L 430.5,50.63 L 431.55,50.63 L 432.6,50.63 L 433.65,50.62 L 434.7,50.62 L 435.75,50.62 L 436.8,50.62 L 437.85,50.61 L 438.89,50.61 L 439.94,50.61 L 440.99,50.6 L 442.04,50.6 L 443.09,50.6 L 444.14,50.59 L 445.19,50.59 L 446.24,50.59 L 447.28,50.58 L 448.33,50.58 L 449.38,50.58 L 450.43,50.58 L 451.48,50.57 L 452.53,50.57 L 453.58,50.57 L 454.62,50.56 L 455.67,50.56 L 456.72,50.56 L 457.77,50.55 L 458.82,50.55 L 459.87,50.55 L 460.92,50.54 L 461.97,50.54 L 463.02,50.54 L 464.06,50.53 L 465.11,50.53 L 466.16,50.53 L 467.21,50.52 L 468.26,50.52 L 469.31,50.52 L 470.36,50.52 L 471.41,50.51 L 472.45,50.51 L 473.5,50.51 L 474.55,50.5 L 475.6,50.5 L 477.17,50.41 L 478.72,50.15 L 480.22,49.71 L 481.67,49.11 L 483.05,48.35 L 484.33,47.45 L 485.5,46.4 L 486.55,45.23 L 487.45,43.95 L 488.21,42.57 L 488.81,41.12 L 489.25,39.62 L 489.51,38.07 L 489.6,36.5 L 489.6,35.44 L 489.6,34.38 L 489.6,33.31 L 489.6,32.25 L 489.6,31.19 L 489.6,30.12 L 489.6,29.06 L 489.6,28 L 489.6,26.94 L 489.6,25.88 L 489.6,24.81 L 489.6,23.75 L 489.6,22.69 L 489.6,21.62 L 489.6,20.56 L 489.6,19.5 L 489.6,18.44 L 489.6,17.38 L 489.6,16.31 L 489.6,15.25 L 489.6,14.19 L 489.6,13.12 L 489.6,12.06 L 489.6,11 L 489.6,9.94 L 489.6,8.88 L 489.6,7.81 L 489.6,6.75 L 489.6,5.69 L 489.6,4.62 L 489.6,3.56 L 489.6,2.5 L 489.6,1.44 L 489.6,0.38 L 489.6,-0.69 L 489.6,-1.75 L 489.6,-2.81 L 489.6,-3.88 L 489.6,-4.94 L 489.6,-6" fill="none" stroke="#E5452A" stroke-width="4.8" stroke-linejoin="round" stroke-linecap="round"/><circle cx="292.81" cy="-7.96" r="0.79" fill="#E5452A"/><circle cx="291.41" cy="-5.8" r="0.62" fill="#E5452A"/><circle cx="291.32" cy="-4.88" r="0.42" fill="#E5452A"/><circle cx="293.43" cy="-7.33" r="0.45" fill="#E5452A"/><circle cx="293.38" cy="-2.02" r="0.47" fill="#E5452A"/><circle cx="292.25" cy="-3.14" r="0.97" fill="#E5452A"/><circle cx="294.23" cy="-3.35" r="0.99" fill="#E5452A"/><circle cx="291.26" cy="-0.77" r="0.57" fill="#E5452A"/><circle cx="291.81" cy="-3.84" r="0.59" fill="#E5452A"/><circle cx="295.57" cy="-3.49" r="0.75" fill="#E5452A"/><circle cx="294.58" cy="-1.34" r="0.73" fill="#E5452A"/><circle cx="291.35" cy="-3.09" r="0.52" fill="#E5452A"/><circle cx="294.81" cy="0.04" r="0.59" fill="#E5452A"/><circle cx="294.28" cy="0.19" r="0.58" fill="#E5452A"/><circle cx="295.45" cy="2.64" r="0.55" fill="#E5452A"/><circle cx="294.22" cy="1.67" r="0.93" fill="#E5452A"/><circle cx="295.08" cy="1.41" r="0.99" fill="#E5452A"/><circle cx="291.66" cy="2.14" r="0.85" fill="#E5452A"/><circle cx="291.85" cy="3.61" r="0.42" fill="#E5452A"/><circle cx="294.74" cy="5.16" r="0.74" fill="#E5452A"/><circle cx="295.9" cy="3.71" r="0.82" fill="#E5452A"/><circle cx="294.33" cy="5.2" r="0.67" fill="#E5452A"/><circle cx="295.7" cy="8.32" r="0.68" fill="#E5452A"/><circle cx="294.72" cy="3.36" r="0.82" fill="#E5452A"/><circle cx="294.62" cy="9.66" r="0.89" fill="#E5452A"/><circle cx="292.59" cy="6.26" r="0.8" fill="#E5452A"/><circle cx="291.13" cy="7.76" r="0.5" fill="#E5452A"/><circle cx="291.66" cy="5.51" r="0.86" fill="#E5452A"/><circle cx="291.72" cy="7.64" r="0.63" fill="#E5452A"/><circle cx="295.88" cy="6.7" r="0.67" fill="#E5452A"/><circle cx="294.08" cy="12.27" r="0.89" fill="#E5452A"/><circle cx="295.84" cy="8.88" r="0.65" fill="#E5452A"/><circle cx="293.01" cy="13.35" r="0.97" fill="#E5452A"/><circle cx="291.85" cy="9.39" r="0.54" fill="#E5452A"/><circle cx="292.31" cy="12.19" r="0.75" fill="#E5452A"/><circle cx="292.47" cy="9.5" r="0.65" fill="#E5452A"/><circle cx="293.07" cy="13.72" r="0.97" fill="#E5452A"/><circle cx="294.87" cy="13.44" r="0.77" fill="#E5452A"/><circle cx="294.79" cy="11.93" r="0.94" fill="#E5452A"/><circle cx="295.37" cy="16.52" r="0.88" fill="#E5452A"/><circle cx="293.2" cy="14.93" r="0.46" fill="#E5452A"/><circle cx="294.55" cy="13.05" r="0.44" fill="#E5452A"/><circle cx="292.17" cy="14.68" r="0.6" fill="#E5452A"/><circle cx="291.29" cy="13.78" r="0.49" fill="#E5452A"/><circle cx="291.57" cy="16.89" r="0.42" fill="#E5452A"/><circle cx="295.9" cy="18.29" r="0.49" fill="#E5452A"/><circle cx="292.41" cy="17.87" r="0.62" fill="#E5452A"/><circle cx="291.69" cy="20.68" r="1" fill="#E5452A"/><circle cx="293.61" cy="19.71" r="0.45" fill="#E5452A"/><circle cx="291.57" cy="18.92" r="0.56" fill="#E5452A"/><circle cx="295.64" cy="18.98" r="0.41" fill="#E5452A"/><circle cx="296.33" cy="21.03" r="0.49" fill="#E5452A"/><circle cx="294.04" cy="19.3" r="0.72" fill="#E5452A"/><circle cx="296.48" cy="23.98" r="0.82" fill="#E5452A"/><circle cx="292.46" cy="22.28" r="0.5" fill="#E5452A"/><circle cx="295.32" cy="23.21" r="0.87" fill="#E5452A"/><circle cx="292.85" cy="22.55" r="0.89" fill="#E5452A"/><circle cx="296.52" cy="26.07" r="0.88" fill="#E5452A"/><circle cx="295.58" cy="26.52" r="0.54" fill="#E5452A"/><circle cx="293.9" cy="24.37" r="0.42" fill="#E5452A"/><circle cx="291.16" cy="25.01" r="0.56" fill="#E5452A"/><circle cx="294.88" cy="28.81" r="0.67" fill="#E5452A"/><circle cx="296.25" cy="30.06" r="0.97" fill="#E5452A"/><circle cx="293.04" cy="25.76" r="0.54" fill="#E5452A"/><circle cx="292.1" cy="26.74" r="0.77" fill="#E5452A"/><circle cx="296.04" cy="30.31" r="0.69" fill="#E5452A"/><circle cx="294.66" cy="31.15" r="0.45" fill="#E5452A"/><circle cx="294.7" cy="31.77" r="0.87" fill="#E5452A"/><circle cx="295.2" cy="30.43" r="0.51" fill="#E5452A"/><circle cx="295.42" cy="29.61" r="0.88" fill="#E5452A"/><circle cx="296.44" cy="31.04" r="0.64" fill="#E5452A"/><circle cx="296.3" cy="32.88" r="0.5" fill="#E5452A"/><circle cx="291.71" cy="30.75" r="0.94" fill="#E5452A"/><circle cx="295.52" cy="30.72" r="0.9" fill="#E5452A"/><circle cx="296.49" cy="34.66" r="0.61" fill="#E5452A"/><circle cx="294.07" cy="31.71" r="0.41" fill="#E5452A"/><circle cx="296.44" cy="35.69" r="0.72" fill="#E5452A"/><circle cx="296.23" cy="34.48" r="0.92" fill="#E5452A"/><circle cx="295.63" cy="34.31" r="0.55" fill="#E5452A"/><circle cx="292.64" cy="34.47" r="0.75" fill="#E5452A"/><circle cx="292.45" cy="36.55" r="0.48" fill="#E5452A"/><circle cx="296.1" cy="36.18" r="0.67" fill="#E5452A"/><circle cx="294.35" cy="40.83" r="0.65" fill="#E5452A"/><circle cx="296.23" cy="38.58" r="0.72" fill="#E5452A"/><circle cx="294.28" cy="37.42" r="0.66" fill="#E5452A"/><circle cx="292.38" cy="37.34" r="0.88" fill="#E5452A"/><circle cx="292.75" cy="41.48" r="0.84" fill="#E5452A"/><circle cx="294.9" cy="40.65" r="0.71" fill="#E5452A"/><circle cx="295.5" cy="44.67" r="0.46" fill="#E5452A"/><circle cx="295.52" cy="41.67" r="0.57" fill="#E5452A"/><circle cx="297.47" cy="44.49" r="0.74" fill="#E5452A"/><circle cx="297.4" cy="46.76" r="0.67" fill="#E5452A"/><circle cx="297.48" cy="45.76" r="0.71" fill="#E5452A"/><circle cx="297.93" cy="45.46" r="0.72" fill="#E5452A"/><circle cx="297.78" cy="49.37" r="0.82" fill="#E5452A"/><circle cx="300.01" cy="49.38" r="0.56" fill="#E5452A"/><circle cx="299.4" cy="50.43" r="0.9" fill="#E5452A"/><circle cx="297.04" cy="45.83" r="0.67" fill="#E5452A"/><circle cx="297.96" cy="47.4" r="0.44" fill="#E5452A"/><circle cx="301.3" cy="50.44" r="0.94" fill="#E5452A"/><circle cx="299.79" cy="50.82" r="0.8" fill="#E5452A"/><circle cx="299.73" cy="51.76" r="0.98" fill="#E5452A"/><circle cx="301.61" cy="52.75" r="0.64" fill="#E5452A"/><circle cx="303.1" cy="52.96" r="0.9" fill="#E5452A"/><circle cx="302.79" cy="50.27" r="0.71" fill="#E5452A"/><circle cx="303.78" cy="48.95" r="0.59" fill="#E5452A"/><circle cx="307.48" cy="48.22" r="0.73" fill="#E5452A"/><circle cx="305.9" cy="48.21" r="0.6" fill="#E5452A"/><circle cx="308.49" cy="51.07" r="0.44" fill="#E5452A"/><circle cx="310.52" cy="52.61" r="0.98" fill="#E5452A"/><circle cx="306.64" cy="49.68" r="0.42" fill="#E5452A"/><circle cx="310.41" cy="49.71" r="0.48" fill="#E5452A"/><circle cx="309.46" cy="53.3" r="0.89" fill="#E5452A"/><circle cx="308.55" cy="49.03" r="0.95" fill="#E5452A"/><circle cx="311.34" cy="52.11" r="0.45" fill="#E5452A"/><circle cx="308.47" cy="52.04" r="0.66" fill="#E5452A"/><circle cx="309.6" cy="53.44" r="0.78" fill="#E5452A"/><circle cx="313.68" cy="48.66" r="0.91" fill="#E5452A"/><circle cx="310.62" cy="53.02" r="0.67" fill="#E5452A"/><circle cx="312.14" cy="51.28" r="0.96" fill="#E5452A"/><circle cx="312.79" cy="48.9" r="0.72" fill="#E5452A"/><circle cx="312.63" cy="48.79" r="0.5" fill="#E5452A"/><circle cx="312.62" cy="49.31" r="0.59" fill="#E5452A"/><circle cx="314.05" cy="52.43" r="0.57" fill="#E5452A"/><circle cx="316.19" cy="49.17" r="0.61" fill="#E5452A"/><circle cx="313.49" cy="49.58" r="0.41" fill="#E5452A"/><circle cx="318.54" cy="51.26" r="0.51" fill="#E5452A"/><circle cx="317.1" cy="53.41" r="0.46" fill="#E5452A"/><circle cx="320.07" cy="50.59" r="0.7" fill="#E5452A"/><circle cx="320.16" cy="50.37" r="0.7" fill="#E5452A"/><circle cx="320.39" cy="53.67" r="0.61" fill="#E5452A"/><circle cx="321.2" cy="52.12" r="0.78" fill="#E5452A"/><circle cx="319.85" cy="50.11" r="0.43" fill="#E5452A"/><circle cx="318.31" cy="48.56" r="0.84" fill="#E5452A"/><circle cx="320.07" cy="49.07" r="0.45" fill="#E5452A"/><circle cx="323.34" cy="53.03" r="0.8" fill="#E5452A"/><circle cx="321.26" cy="49.51" r="0.58" fill="#E5452A"/><circle cx="322.26" cy="49.04" r="0.67" fill="#E5452A"/><circle cx="322.21" cy="53.54" r="0.98" fill="#E5452A"/><circle cx="323.79" cy="49.52" r="0.98" fill="#E5452A"/><circle cx="323.51" cy="50.15" r="0.4" fill="#E5452A"/><circle cx="323.92" cy="50.81" r="0.7" fill="#E5452A"/><circle cx="323.95" cy="50.97" r="0.4" fill="#E5452A"/><circle cx="324.31" cy="48.65" r="0.64" fill="#E5452A"/><circle cx="324.11" cy="48.27" r="0.58" fill="#E5452A"/><circle cx="325.18" cy="51.42" r="0.72" fill="#E5452A"/><circle cx="329.13" cy="51.82" r="0.83" fill="#E5452A"/><circle cx="329.85" cy="50.32" r="0.6" fill="#E5452A"/><circle cx="331.49" cy="48.97" r="0.83" fill="#E5452A"/><circle cx="329.58" cy="48.38" r="0.9" fill="#E5452A"/><circle cx="332.02" cy="51.65" r="0.84" fill="#E5452A"/><circle cx="331.57" cy="48.91" r="0.71" fill="#E5452A"/><circle cx="330.9" cy="52.81" r="0.88" fill="#E5452A"/><circle cx="332.7" cy="51.4" r="0.94" fill="#E5452A"/><circle cx="332.95" cy="52.01" r="0.54" fill="#E5452A"/><circle cx="329.3" cy="48.87" r="0.62" fill="#E5452A"/><circle cx="330.76" cy="52.81" r="0.74" fill="#E5452A"/><circle cx="333.69" cy="51.63" r="0.81" fill="#E5452A"/><circle cx="333.96" cy="48.14" r="0.88" fill="#E5452A"/><circle cx="335.41" cy="50.94" r="0.72" fill="#E5452A"/><circle cx="335.96" cy="48.49" r="0.84" fill="#E5452A"/><circle cx="333.68" cy="48.54" r="0.56" fill="#E5452A"/><circle cx="337.4" cy="49.26" r="0.84" fill="#E5452A"/><circle cx="338.78" cy="50.88" r="0.63" fill="#E5452A"/><circle cx="337.05" cy="51.94" r="0.86" fill="#E5452A"/><circle cx="337.82" cy="51.71" r="0.45" fill="#E5452A"/><circle cx="336.24" cy="49.53" r="0.85" fill="#E5452A"/><circle cx="337.12" cy="51.29" r="0.41" fill="#E5452A"/><circle cx="336.8" cy="49.61" r="0.8" fill="#E5452A"/><circle cx="340.34" cy="51.89" r="0.57" fill="#E5452A"/><circle cx="340.4" cy="50.71" r="0.68" fill="#E5452A"/><circle cx="338.17" cy="53.11" r="0.52" fill="#E5452A"/><circle cx="344.04" cy="53.34" r="0.41" fill="#E5452A"/><circle cx="341.13" cy="52.69" r="0.98" fill="#E5452A"/><circle cx="342.13" cy="49.6" r="0.53" fill="#E5452A"/><circle cx="344.9" cy="49.28" r="0.75" fill="#E5452A"/><circle cx="341.45" cy="51.03" r="0.97" fill="#E5452A"/><circle cx="341.4" cy="52.69" r="0.71" fill="#E5452A"/><circle cx="346.67" cy="52.03" r="0.54" fill="#E5452A"/><circle cx="346.73" cy="50.81" r="0.41" fill="#E5452A"/><circle cx="342.78" cy="50.84" r="0.67" fill="#E5452A"/><circle cx="344.45" cy="48.88" r="0.61" fill="#E5452A"/><circle cx="345.57" cy="52.79" r="0.4" fill="#E5452A"/><circle cx="348.01" cy="52.78" r="0.47" fill="#E5452A"/><circle cx="350.04" cy="52.07" r="0.94" fill="#E5452A"/><circle cx="346.48" cy="50.17" r="0.64" fill="#E5452A"/><circle cx="351.49" cy="51.38" r="0.62" fill="#E5452A"/><circle cx="348.3" cy="49.62" r="0.43" fill="#E5452A"/><circle cx="347.52" cy="52.75" r="0.57" fill="#E5452A"/><circle cx="352.19" cy="49.47" r="0.56" fill="#E5452A"/><circle cx="350.86" cy="49.14" r="0.62" fill="#E5452A"/><circle cx="353.35" cy="53.02" r="0.89" fill="#E5452A"/><circle cx="352.58" cy="53.18" r="0.96" fill="#E5452A"/><circle cx="352.12" cy="52.1" r="0.43" fill="#E5452A"/><circle cx="354.2" cy="50.59" r="0.85" fill="#E5452A"/><circle cx="353.71" cy="49.67" r="0.43" fill="#E5452A"/><circle cx="356.33" cy="48.78" r="0.68" fill="#E5452A"/><circle cx="353.07" cy="49.73" r="0.84" fill="#E5452A"/><circle cx="357.66" cy="49.52" r="0.79" fill="#E5452A"/><circle cx="353.88" cy="51.18" r="0.64" fill="#E5452A"/><circle cx="354.18" cy="48.96" r="0.52" fill="#E5452A"/><circle cx="358.32" cy="50.84" r="0.53" fill="#E5452A"/><circle cx="359.37" cy="53.63" r="0.67" fill="#E5452A"/><circle cx="355.07" cy="49.13" r="0.45" fill="#E5452A"/><circle cx="357.25" cy="48.56" r="0.54" fill="#E5452A"/><circle cx="356.79" cy="51.24" r="0.93" fill="#E5452A"/><circle cx="360.59" cy="50.36" r="0.65" fill="#E5452A"/><circle cx="359.32" cy="50.16" r="0.6" fill="#E5452A"/><circle cx="357.79" cy="49.6" r="0.98" fill="#E5452A"/><circle cx="358.14" cy="50.86" r="0.78" fill="#E5452A"/><circle cx="363.32" cy="49.25" r="0.56" fill="#E5452A"/><circle cx="359.88" cy="50.28" r="0.67" fill="#E5452A"/><circle cx="364.88" cy="52.79" r="0.92" fill="#E5452A"/><circle cx="359.66" cy="48.22" r="0.83" fill="#E5452A"/><circle cx="365.6" cy="50.68" r="0.75" fill="#E5452A"/><circle cx="360.58" cy="50.23" r="0.96" fill="#E5452A"/><circle cx="366.26" cy="52.82" r="0.98" fill="#E5452A"/><circle cx="363.02" cy="48.64" r="0.49" fill="#E5452A"/><circle cx="365.61" cy="51.85" r="0.96" fill="#E5452A"/><circle cx="366.72" cy="51.65" r="0.86" fill="#E5452A"/><circle cx="366.29" cy="51.11" r="0.42" fill="#E5452A"/><circle cx="368.11" cy="49.33" r="0.95" fill="#E5452A"/><circle cx="368.39" cy="49.72" r="0.48" fill="#E5452A"/><circle cx="366.19" cy="51.59" r="0.82" fill="#E5452A"/><circle cx="366.46" cy="48.41" r="0.71" fill="#E5452A"/><circle cx="369.09" cy="50.19" r="0.53" fill="#E5452A"/><circle cx="370.24" cy="48.07" r="0.58" fill="#E5452A"/><circle cx="369.46" cy="53.39" r="0.79" fill="#E5452A"/><circle cx="372.87" cy="50.67" r="0.54" fill="#E5452A"/><circle cx="369.31" cy="53.39" r="0.82" fill="#E5452A"/><circle cx="370.7" cy="48.13" r="0.7" fill="#E5452A"/><circle cx="372.75" cy="50.36" r="0.55" fill="#E5452A"/><circle cx="373.76" cy="53.19" r="0.54" fill="#E5452A"/><circle cx="370.21" cy="49.9" r="0.65" fill="#E5452A"/><circle cx="374.89" cy="49.11" r="0.88" fill="#E5452A"/><circle cx="375.21" cy="50.83" r="0.52" fill="#E5452A"/><circle cx="377.55" cy="49.75" r="0.89" fill="#E5452A"/><circle cx="373.41" cy="49.24" r="0.86" fill="#E5452A"/><circle cx="374.82" cy="53.33" r="0.7" fill="#E5452A"/><circle cx="374.22" cy="49.25" r="0.65" fill="#E5452A"/><circle cx="377.94" cy="53.31" r="0.49" fill="#E5452A"/><circle cx="376.42" cy="49.19" r="0.98" fill="#E5452A"/><circle cx="376.06" cy="48.28" r="0.44" fill="#E5452A"/><circle cx="377.47" cy="53.02" r="0.93" fill="#E5452A"/><circle cx="380.42" cy="53.57" r="0.96" fill="#E5452A"/><circle cx="378.16" cy="49.03" r="0.96" fill="#E5452A"/><circle cx="381.54" cy="48.16" r="0.8" fill="#E5452A"/><circle cx="379.48" cy="50.08" r="0.6" fill="#E5452A"/><circle cx="379.36" cy="48" r="0.57" fill="#E5452A"/><circle cx="380.38" cy="53.33" r="0.47" fill="#E5452A"/><circle cx="384.86" cy="49.14" r="0.61" fill="#E5452A"/><circle cx="384.06" cy="52.58" r="0.66" fill="#E5452A"/><circle cx="380.79" cy="50.63" r="0.62" fill="#E5452A"/><circle cx="385.66" cy="49.06" r="0.62" fill="#E5452A"/><circle cx="386.58" cy="48.14" r="0.65" fill="#E5452A"/><circle cx="386.1" cy="52.27" r="0.42" fill="#E5452A"/><circle cx="382.8" cy="48.32" r="0.95" fill="#E5452A"/><circle cx="384.05" cy="52.15" r="0.94" fill="#E5452A"/><circle cx="385.56" cy="49.49" r="0.97" fill="#E5452A"/><circle cx="387.11" cy="49.43" r="0.83" fill="#E5452A"/><circle cx="386.48" cy="49.51" r="0.4" fill="#E5452A"/><circle cx="388.94" cy="53.09" r="0.78" fill="#E5452A"/><circle cx="391.04" cy="48.1" r="0.54" fill="#E5452A"/><circle cx="388.41" cy="53.32" r="0.97" fill="#E5452A"/><circle cx="388.97" cy="49.36" r="0.66" fill="#E5452A"/><circle cx="389.57" cy="53.15" r="0.51" fill="#E5452A"/><circle cx="392.35" cy="52.09" r="0.89" fill="#E5452A"/><circle cx="392.18" cy="51.35" r="0.6" fill="#E5452A"/><circle cx="390.69" cy="49.98" r="0.87" fill="#E5452A"/><circle cx="389.34" cy="49.05" r="0.85" fill="#E5452A"/><circle cx="391.33" cy="48.31" r="0.42" fill="#E5452A"/><circle cx="393.04" cy="49.77" r="0.99" fill="#E5452A"/><circle cx="395.94" cy="53.48" r="0.56" fill="#E5452A"/><circle cx="391.47" cy="48.48" r="0.7" fill="#E5452A"/><circle cx="396.02" cy="50.44" r="0.54" fill="#E5452A"/><circle cx="394.38" cy="51.41" r="0.8" fill="#E5452A"/><circle cx="397.28" cy="52.68" r="0.8" fill="#E5452A"/><circle cx="393.77" cy="52.65" r="0.58" fill="#E5452A"/><circle cx="397.32" cy="50.02" r="0.84" fill="#E5452A"/><circle cx="395.26" cy="49.32" r="0.55" fill="#E5452A"/><circle cx="396.05" cy="52.88" r="0.75" fill="#E5452A"/><circle cx="397.02" cy="50.15" r="1" fill="#E5452A"/><circle cx="399.08" cy="49.22" r="0.89" fill="#E5452A"/><circle cx="399.9" cy="53.48" r="0.46" fill="#E5452A"/><circle cx="399.95" cy="52.51" r="0.9" fill="#E5452A"/><circle cx="402.41" cy="48.15" r="0.58" fill="#E5452A"/><circle cx="399.01" cy="48.98" r="0.98" fill="#E5452A"/><circle cx="401.6" cy="53.13" r="0.62" fill="#E5452A"/><circle cx="404.24" cy="50.43" r="0.56" fill="#E5452A"/><circle cx="403.74" cy="53.21" r="0.46" fill="#E5452A"/><circle cx="403.77" cy="51.39" r="0.53" fill="#E5452A"/><circle cx="402.5" cy="48.71" r="0.52" fill="#E5452A"/><circle cx="402.91" cy="51.27" r="0.79" fill="#E5452A"/><circle cx="402.62" cy="47.98" r="0.6" fill="#E5452A"/><circle cx="406.33" cy="48.95" r="0.59" fill="#E5452A"/><circle cx="403.67" cy="52.36" r="0.73" fill="#E5452A"/><circle cx="403.94" cy="48.47" r="0.64" fill="#E5452A"/><circle cx="406.66" cy="51.49" r="0.45" fill="#E5452A"/><circle cx="405.55" cy="51.8" r="0.65" fill="#E5452A"/><circle cx="406.22" cy="49.63" r="0.97" fill="#E5452A"/><circle cx="407.43" cy="51.07" r="0.61" fill="#E5452A"/><circle cx="408.01" cy="52.74" r="1" fill="#E5452A"/><circle cx="408.77" cy="49" r="0.84" fill="#E5452A"/><circle cx="407.87" cy="47.93" r="0.94" fill="#E5452A"/><circle cx="410.15" cy="52.49" r="0.64" fill="#E5452A"/><circle cx="412.72" cy="50.47" r="0.5" fill="#E5452A"/><circle cx="408.91" cy="50.98" r="0.78" fill="#E5452A"/><circle cx="413.92" cy="48.39" r="0.77" fill="#E5452A"/><circle cx="411.95" cy="50.71" r="0.49" fill="#E5452A"/><circle cx="411.46" cy="50.81" r="0.96" fill="#E5452A"/><circle cx="411.53" cy="50.63" r="0.88" fill="#E5452A"/><circle cx="416.34" cy="48.99" r="0.48" fill="#E5452A"/><circle cx="417.25" cy="53.34" r="0.69" fill="#E5452A"/><circle cx="412.27" cy="53.07" r="0.63" fill="#E5452A"/><circle cx="418.08" cy="51.35" r="0.89" fill="#E5452A"/><circle cx="413.92" cy="52.28" r="0.53" fill="#E5452A"/><circle cx="416.34" cy="52.61" r="0.9" fill="#E5452A"/><circle cx="415.09" cy="49.1" r="0.64" fill="#E5452A"/><circle cx="418.02" cy="50.02" r="0.47" fill="#E5452A"/><circle cx="416.5" cy="51.93" r="0.94" fill="#E5452A"/><circle cx="416.4" cy="51.02" r="0.85" fill="#E5452A"/><circle cx="416.38" cy="52.56" r="0.47" fill="#E5452A"/><circle cx="420.57" cy="50.95" r="0.78" fill="#E5452A"/><circle cx="418.93" cy="50.22" r="0.75" fill="#E5452A"/><circle cx="420.65" cy="51.55" r="0.67" fill="#E5452A"/><circle cx="420.72" cy="47.99" r="0.77" fill="#E5452A"/><circle cx="422.05" cy="49.18" r="0.86" fill="#E5452A"/><circle cx="423.68" cy="50.43" r="0.51" fill="#E5452A"/><circle cx="423.01" cy="48.46" r="0.48" fill="#E5452A"/><circle cx="422.77" cy="48.37" r="0.67" fill="#E5452A"/><circle cx="424.27" cy="48.08" r="0.78" fill="#E5452A"/><circle cx="421.87" cy="51.96" r="0.87" fill="#E5452A"/><circle cx="425.32" cy="48.15" r="0.7" fill="#E5452A"/><circle cx="424.58" cy="53.17" r="0.48" fill="#E5452A"/><circle cx="428.31" cy="53.43" r="0.84" fill="#E5452A"/><circle cx="428.07" cy="48.93" r="0.99" fill="#E5452A"/><circle cx="427.31" cy="53.2" r="0.95" fill="#E5452A"/><circle cx="425.48" cy="52.26" r="0.96" fill="#E5452A"/><circle cx="425.97" cy="49.81" r="0.85" fill="#E5452A"/><circle cx="426.5" cy="52.86" r="0.56" fill="#E5452A"/><circle cx="431.22" cy="48.64" r="0.7" fill="#E5452A"/><circle cx="431.81" cy="49" r="0.56" fill="#E5452A"/><circle cx="430.54" cy="49.62" r="0.42" fill="#E5452A"/><circle cx="428.72" cy="48.74" r="0.96" fill="#E5452A"/><circle cx="432.56" cy="52.85" r="0.5" fill="#E5452A"/><circle cx="433.15" cy="48.48" r="0.72" fill="#E5452A"/><circle cx="433.36" cy="49.84" r="0.92" fill="#E5452A"/><circle cx="432.91" cy="51.08" r="0.93" fill="#E5452A"/><circle cx="431.44" cy="53.39" r="0.78" fill="#E5452A"/><circle cx="433.06" cy="52.29" r="0.56" fill="#E5452A"/><circle cx="437.45" cy="51.06" r="0.62" fill="#E5452A"/><circle cx="436.18" cy="50.3" r="0.51" fill="#E5452A"/><circle cx="437.11" cy="48.09" r="0.89" fill="#E5452A"/><circle cx="434.37" cy="51.4" r="0.99" fill="#E5452A"/><circle cx="437.28" cy="51.53" r="0.59" fill="#E5452A"/><circle cx="434.01" cy="48" r="0.49" fill="#E5452A"/><circle cx="438.49" cy="50.23" r="0.71" fill="#E5452A"/><circle cx="440.06" cy="48.55" r="0.54" fill="#E5452A"/><circle cx="439.75" cy="47.93" r="0.4" fill="#E5452A"/><circle cx="438.08" cy="48.41" r="0.61" fill="#E5452A"/><circle cx="438.4" cy="51.07" r="0.75" fill="#E5452A"/><circle cx="438.29" cy="51.3" r="0.68" fill="#E5452A"/><circle cx="438.95" cy="53.05" r="0.55" fill="#E5452A"/><circle cx="439.03" cy="48.34" r="0.78" fill="#E5452A"/><circle cx="444.12" cy="52.18" r="0.64" fill="#E5452A"/><circle cx="440.72" cy="47.86" r="0.79" fill="#E5452A"/><circle cx="443.44" cy="49.76" r="0.79" fill="#E5452A"/><circle cx="442.77" cy="53.04" r="0.84" fill="#E5452A"/><circle cx="442.73" cy="52.85" r="0.43" fill="#E5452A"/><circle cx="444.31" cy="50.07" r="0.54" fill="#E5452A"/><circle cx="442.71" cy="52.15" r="0.41" fill="#E5452A"/><circle cx="445.47" cy="53.06" r="0.49" fill="#E5452A"/><circle cx="444.55" cy="51.19" r="0.7" fill="#E5452A"/><circle cx="447.03" cy="52.34" r="0.5" fill="#E5452A"/><circle cx="446.22" cy="49.47" r="0.43" fill="#E5452A"/><circle cx="449.46" cy="52.17" r="0.83" fill="#E5452A"/><circle cx="445.57" cy="52.51" r="0.85" fill="#E5452A"/><circle cx="448.14" cy="51.94" r="0.67" fill="#E5452A"/><circle cx="447.85" cy="48.37" r="0.54" fill="#E5452A"/><circle cx="446.8" cy="49.66" r="0.85" fill="#E5452A"/><circle cx="451.52" cy="52.51" r="0.83" fill="#E5452A"/><circle cx="449.12" cy="50.88" r="0.66" fill="#E5452A"/><circle cx="453.09" cy="50.7" r="0.56" fill="#E5452A"/><circle cx="452.27" cy="53.18" r="0.53" fill="#E5452A"/><circle cx="454.66" cy="47.85" r="0.56" fill="#E5452A"/><circle cx="451.05" cy="51.93" r="0.97" fill="#E5452A"/><circle cx="454.95" cy="49.6" r="0.93" fill="#E5452A"/><circle cx="452.62" cy="49.1" r="0.94" fill="#E5452A"/><circle cx="455.36" cy="51.64" r="0.8" fill="#E5452A"/><circle cx="457.31" cy="50.39" r="0.9" fill="#E5452A"/><circle cx="456.78" cy="52.56" r="0.66" fill="#E5452A"/><circle cx="456.93" cy="50.95" r="0.58" fill="#E5452A"/><circle cx="455.11" cy="51.24" r="0.45" fill="#E5452A"/><circle cx="459.02" cy="48.57" r="0.42" fill="#E5452A"/><circle cx="455.57" cy="52.96" r="0.61" fill="#E5452A"/><circle cx="455.77" cy="47.91" r="0.42" fill="#E5452A"/><circle cx="459.9" cy="51.3" r="0.82" fill="#E5452A"/><circle cx="460.15" cy="48.12" r="0.75" fill="#E5452A"/><circle cx="459.1" cy="52.33" r="0.89" fill="#E5452A"/><circle cx="462.06" cy="48.12" r="0.92" fill="#E5452A"/><circle cx="463.24" cy="53.03" r="0.46" fill="#E5452A"/><circle cx="459.27" cy="48.37" r="0.42" fill="#E5452A"/><circle cx="463.91" cy="52.29" r="0.78" fill="#E5452A"/><circle cx="463.79" cy="51.28" r="0.57" fill="#E5452A"/><circle cx="460.77" cy="48.29" r="0.85" fill="#E5452A"/><circle cx="461.36" cy="49.52" r="0.65" fill="#E5452A"/><circle cx="461.38" cy="49.17" r="0.57" fill="#E5452A"/><circle cx="465.27" cy="49.8" r="0.59" fill="#E5452A"/><circle cx="467.71" cy="50.55" r="0.91" fill="#E5452A"/><circle cx="465.77" cy="47.9" r="0.65" fill="#E5452A"/><circle cx="465.81" cy="52.06" r="0.61" fill="#E5452A"/><circle cx="467.31" cy="50.74" r="0.53" fill="#E5452A"/><circle cx="469.24" cy="48.23" r="0.89" fill="#E5452A"/><circle cx="465.36" cy="47.73" r="0.52" fill="#E5452A"/><circle cx="469.73" cy="53.2" r="0.4" fill="#E5452A"/><circle cx="468.21" cy="50.47" r="0.88" fill="#E5452A"/><circle cx="467.54" cy="50.49" r="0.61" fill="#E5452A"/><circle cx="471.17" cy="49.18" r="0.97" fill="#E5452A"/><circle cx="469.15" cy="48.92" r="0.82" fill="#E5452A"/><circle cx="470.35" cy="48.33" r="0.78" fill="#E5452A"/><circle cx="469.06" cy="52.12" r="0.82" fill="#E5452A"/><circle cx="473.01" cy="51.23" r="0.61" fill="#E5452A"/><circle cx="471.9" cy="49.92" r="0.93" fill="#E5452A"/><circle cx="470.14" cy="52.68" r="0.42" fill="#E5452A"/><circle cx="471.86" cy="49.18" r="0.94" fill="#E5452A"/><circle cx="473.51" cy="49.83" r="0.93" fill="#E5452A"/><circle cx="473.06" cy="50.28" r="0.72" fill="#E5452A"/><circle cx="475.98" cy="51.92" r="0.79" fill="#E5452A"/><circle cx="474.75" cy="49.53" r="0.49" fill="#E5452A"/><circle cx="477.52" cy="51.41" r="0.85" fill="#E5452A"/><circle cx="475.32" cy="50.07" r="0.86" fill="#E5452A"/><circle cx="477.61" cy="48.32" r="0.68" fill="#E5452A"/><circle cx="480.87" cy="48.68" r="0.51" fill="#E5452A"/><circle cx="477.6" cy="51.29" r="0.91" fill="#E5452A"/><circle cx="478.29" cy="47.79" r="0.55" fill="#E5452A"/><circle cx="479.25" cy="49.84" r="0.5" fill="#E5452A"/><circle cx="480.71" cy="47.37" r="0.99" fill="#E5452A"/><circle cx="482.96" cy="46.88" r="0.98" fill="#E5452A"/><circle cx="480.82" cy="47.71" r="0.99" fill="#E5452A"/><circle cx="484.7" cy="49.66" r="0.66" fill="#E5452A"/><circle cx="482.63" cy="48.22" r="0.46" fill="#E5452A"/><circle cx="482.68" cy="46.82" r="0.42" fill="#E5452A"/><circle cx="484.93" cy="48.03" r="0.82" fill="#E5452A"/><circle cx="485.5" cy="47.14" r="0.68" fill="#E5452A"/><circle cx="484.54" cy="45.81" r="0.64" fill="#E5452A"/><circle cx="487.89" cy="47.51" r="0.66" fill="#E5452A"/><circle cx="487.87" cy="45.34" r="0.65" fill="#E5452A"/><circle cx="485.93" cy="45.19" r="0.93" fill="#E5452A"/><circle cx="489.75" cy="43.69" r="0.91" fill="#E5452A"/><circle cx="489.22" cy="43.37" r="0.67" fill="#E5452A"/><circle cx="487.77" cy="41.84" r="0.46" fill="#E5452A"/><circle cx="488.36" cy="42.71" r="0.83" fill="#E5452A"/><circle cx="489.97" cy="38.22" r="0.65" fill="#E5452A"/><circle cx="489" cy="40.3" r="0.65" fill="#E5452A"/><circle cx="490.49" cy="40.48" r="0.51" fill="#E5452A"/><circle cx="490.38" cy="39.63" r="0.63" fill="#E5452A"/><circle cx="489.54" cy="39.16" r="0.42" fill="#E5452A"/><circle cx="489.84" cy="34.6" r="0.87" fill="#E5452A"/><circle cx="492.07" cy="35.55" r="0.46" fill="#E5452A"/><circle cx="490.02" cy="35.67" r="0.83" fill="#E5452A"/><circle cx="489.67" cy="35.15" r="0.9" fill="#E5452A"/><circle cx="489.72" cy="33.87" r="0.97" fill="#E5452A"/><circle cx="487.98" cy="34.34" r="0.64" fill="#E5452A"/><circle cx="491.07" cy="31.2" r="0.99" fill="#E5452A"/><circle cx="488.79" cy="29.77" r="0.56" fill="#E5452A"/><circle cx="489.04" cy="29.52" r="0.65" fill="#E5452A"/><circle cx="489.16" cy="32.3" r="0.61" fill="#E5452A"/><circle cx="488.28" cy="29.64" r="0.84" fill="#E5452A"/><circle cx="492.06" cy="30.28" r="0.53" fill="#E5452A"/><circle cx="491.29" cy="29.52" r="0.53" fill="#E5452A"/><circle cx="487.52" cy="30.61" r="0.89" fill="#E5452A"/><circle cx="490.35" cy="28.89" r="0.74" fill="#E5452A"/><circle cx="488.07" cy="30.6" r="0.61" fill="#E5452A"/><circle cx="490.38" cy="29.78" r="0.89" fill="#E5452A"/><circle cx="489.42" cy="25.79" r="0.73" fill="#E5452A"/><circle cx="487.5" cy="28.81" r="0.61" fill="#E5452A"/><circle cx="491.56" cy="24.57" r="0.63" fill="#E5452A"/><circle cx="488.22" cy="25.46" r="0.51" fill="#E5452A"/><circle cx="486.82" cy="26.05" r="0.57" fill="#E5452A"/><circle cx="488.17" cy="23.7" r="0.69" fill="#E5452A"/><circle cx="489.2" cy="24.52" r="0.8" fill="#E5452A"/><circle cx="488.83" cy="26.15" r="0.91" fill="#E5452A"/><circle cx="487.12" cy="24.52" r="0.94" fill="#E5452A"/><circle cx="491.19" cy="20.67" r="0.9" fill="#E5452A"/><circle cx="490.35" cy="18.91" r="0.41" fill="#E5452A"/><circle cx="492.13" cy="22.5" r="0.55" fill="#E5452A"/><circle cx="487.37" cy="18.56" r="0.54" fill="#E5452A"/><circle cx="491.15" cy="19.7" r="0.49" fill="#E5452A"/><circle cx="491.86" cy="21.13" r="0.5" fill="#E5452A"/><circle cx="491.79" cy="20.11" r="0.87" fill="#E5452A"/><circle cx="490.54" cy="20.64" r="0.87" fill="#E5452A"/><circle cx="491.5" cy="16.74" r="0.82" fill="#E5452A"/><circle cx="489.77" cy="18.73" r="0.66" fill="#E5452A"/><circle cx="491.74" cy="17.68" r="0.56" fill="#E5452A"/><circle cx="488.11" cy="14.29" r="0.7" fill="#E5452A"/><circle cx="487.13" cy="16.13" r="0.49" fill="#E5452A"/><circle cx="489.55" cy="15.24" r="0.72" fill="#E5452A"/><circle cx="491.63" cy="12.49" r="0.9" fill="#E5452A"/><circle cx="489.42" cy="14.54" r="0.8" fill="#E5452A"/><circle cx="491.51" cy="13.49" r="0.65" fill="#E5452A"/><circle cx="492.18" cy="10.75" r="0.78" fill="#E5452A"/><circle cx="490.36" cy="10.48" r="0.77" fill="#E5452A"/><circle cx="490.62" cy="14.48" r="0.6" fill="#E5452A"/><circle cx="492.3" cy="12.12" r="0.69" fill="#E5452A"/><circle cx="491.83" cy="8.39" r="0.83" fill="#E5452A"/><circle cx="490.3" cy="10.1" r="0.92" fill="#E5452A"/><circle cx="488.85" cy="9.79" r="0.72" fill="#E5452A"/><circle cx="491.12" cy="8.32" r="0.66" fill="#E5452A"/><circle cx="489.17" cy="9.18" r="0.9" fill="#E5452A"/><circle cx="488.44" cy="10.71" r="0.64" fill="#E5452A"/><circle cx="489.62" cy="6.53" r="0.7" fill="#E5452A"/><circle cx="492.26" cy="8.68" r="0.88" fill="#E5452A"/><circle cx="488.65" cy="5.73" r="0.58" fill="#E5452A"/><circle cx="490.08" cy="7.5" r="0.87" fill="#E5452A"/><circle cx="487.02" cy="6.93" r="0.93" fill="#E5452A"/><circle cx="489.85" cy="3.17" r="0.58" fill="#E5452A"/><circle cx="486.83" cy="2.89" r="0.95" fill="#E5452A"/><circle cx="490.21" cy="5.51" r="0.87" fill="#E5452A"/><circle cx="491.9" cy="4.19" r="0.77" fill="#E5452A"/><circle cx="490.31" cy="4.66" r="0.76" fill="#E5452A"/><circle cx="490.61" cy="0.89" r="0.8" fill="#E5452A"/><circle cx="489.36" cy="3.97" r="0.46" fill="#E5452A"/><circle cx="487.82" cy="-1.16" r="0.86" fill="#E5452A"/><circle cx="491.92" cy="2.31" r="0.62" fill="#E5452A"/><circle cx="491.41" cy="1.98" r="0.74" fill="#E5452A"/><circle cx="488.24" cy="-0.73" r="0.65" fill="#E5452A"/><circle cx="488.58" cy="-1.08" r="0.79" fill="#E5452A"/><circle cx="492.03" cy="-3.18" r="0.74" fill="#E5452A"/><circle cx="487.02" cy="-3.88" r="0.89" fill="#E5452A"/><circle cx="490.02" cy="0.59" r="0.67" fill="#E5452A"/><circle cx="486.88" cy="-3.44" r="0.76" fill="#E5452A"/><circle cx="492.05" cy="-0.12" r="0.69" fill="#E5452A"/><circle cx="489.11" cy="-6.1" r="0.79" fill="#E5452A"/><circle cx="487.99" cy="-5.83" r="0.41" fill="#E5452A"/><circle cx="486.83" cy="-3.91" r="0.47" fill="#E5452A"/><circle cx="492.21" cy="-7.24" r="0.92" fill="#E5452A"/><circle cx="487.52" cy="-8.7" r="0.83" fill="#E5452A"/><circle cx="488.16" cy="-4.69" r="0.51" fill="#E5452A"/></svg>
</div></body></html>
